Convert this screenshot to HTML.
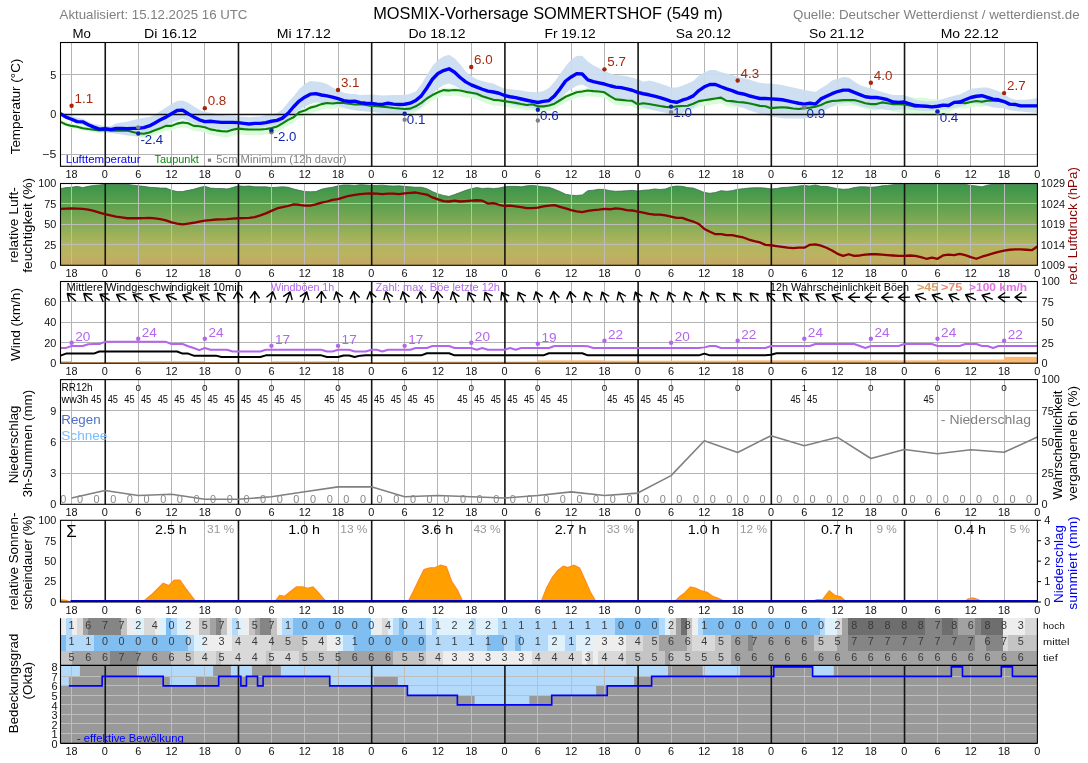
<!DOCTYPE html>
<html lang="de"><head><meta charset="utf-8"><title>MOSMIX-Vorhersage SOMMERTSHOF (549 m)</title>
<style>html,body{margin:0;padding:0;background:#fff;}body{width:1088px;height:763px;overflow:hidden;font-family:"Liberation Sans", sans-serif;}svg text{font-family:"Liberation Sans", sans-serif;}</style>
</head><body>
<svg width="1088" height="763" viewBox="0 0 1088 763" font-family='"Liberation Sans", sans-serif' style="display:block;will-change:transform;transform:translateZ(0)">
<rect width="1088" height="763" fill="#fff"/>
<defs>
<linearGradient id="rh" x1="0" y1="0" x2="0" y2="1">
<stop offset="0" stop-color="#39944a"/><stop offset="0.25" stop-color="#5ba04f"/><stop offset="0.5" stop-color="#86ab56"/><stop offset="0.75" stop-color="#b2b65e"/><stop offset="0.88" stop-color="#bcb260"/><stop offset="1" stop-color="#c4a663"/>
</linearGradient>
</defs>
<text x="59.6" y="18.9" font-size="12.83" fill="#808080" textLength="187.85" lengthAdjust="spacingAndGlyphs">Aktualisiert: 15.12.2025 16 UTC</text>
<text x="548" y="18.9" font-size="16.54" fill="#000" text-anchor="middle" textLength="349.66" lengthAdjust="spacingAndGlyphs">MOSMIX-Vorhersage SOMMERTSHOF (549 m)</text>
<text x="1079.6" y="18.9" font-size="12.83" fill="#808080" text-anchor="end" textLength="286.57" lengthAdjust="spacingAndGlyphs">Quelle: Deutscher Wetterdienst / wetterdienst.de</text>
<text x="81.7" y="37.9" font-size="13.25" fill="#000" text-anchor="middle" textLength="18.43" lengthAdjust="spacingAndGlyphs">Mo</text>
<text x="170.51" y="37.9" font-size="13.25" fill="#000" text-anchor="middle" textLength="52.86" lengthAdjust="spacingAndGlyphs">Di 16.12</text>
<text x="303.73" y="37.9" font-size="13.25" fill="#000" text-anchor="middle" textLength="54.02" lengthAdjust="spacingAndGlyphs">Mi 17.12</text>
<text x="436.94" y="37.9" font-size="13.25" fill="#000" text-anchor="middle" textLength="57.03" lengthAdjust="spacingAndGlyphs">Do 18.12</text>
<text x="570.15" y="37.9" font-size="13.25" fill="#000" text-anchor="middle" textLength="51.18" lengthAdjust="spacingAndGlyphs">Fr 19.12</text>
<text x="703.37" y="37.9" font-size="13.25" fill="#000" text-anchor="middle" textLength="55.35" lengthAdjust="spacingAndGlyphs">Sa 20.12</text>
<text x="836.58" y="37.9" font-size="13.25" fill="#000" text-anchor="middle" textLength="55.34" lengthAdjust="spacingAndGlyphs">So 21.12</text>
<text x="969.79" y="37.9" font-size="13.25" fill="#000" text-anchor="middle" textLength="58.19" lengthAdjust="spacingAndGlyphs">Mo 22.12</text>
<clipPath id="c1"><rect x="60.5" y="42.5" width="976.9" height="123.8"/></clipPath>
<line x1="71.5" y1="42.5" x2="71.5" y2="166.3" stroke="#b4b4b4" stroke-width="1"/>
<line x1="138.5" y1="42.5" x2="138.5" y2="166.3" stroke="#b4b4b4" stroke-width="1"/>
<line x1="171.5" y1="42.5" x2="171.5" y2="166.3" stroke="#b4b4b4" stroke-width="1"/>
<line x1="204.5" y1="42.5" x2="204.5" y2="166.3" stroke="#b4b4b4" stroke-width="1"/>
<line x1="271.5" y1="42.5" x2="271.5" y2="166.3" stroke="#b4b4b4" stroke-width="1"/>
<line x1="304.5" y1="42.5" x2="304.5" y2="166.3" stroke="#b4b4b4" stroke-width="1"/>
<line x1="338.5" y1="42.5" x2="338.5" y2="166.3" stroke="#b4b4b4" stroke-width="1"/>
<line x1="404.5" y1="42.5" x2="404.5" y2="166.3" stroke="#b4b4b4" stroke-width="1"/>
<line x1="437.5" y1="42.5" x2="437.5" y2="166.3" stroke="#b4b4b4" stroke-width="1"/>
<line x1="471.5" y1="42.5" x2="471.5" y2="166.3" stroke="#b4b4b4" stroke-width="1"/>
<line x1="537.5" y1="42.5" x2="537.5" y2="166.3" stroke="#b4b4b4" stroke-width="1"/>
<line x1="571.5" y1="42.5" x2="571.5" y2="166.3" stroke="#b4b4b4" stroke-width="1"/>
<line x1="604.5" y1="42.5" x2="604.5" y2="166.3" stroke="#b4b4b4" stroke-width="1"/>
<line x1="671.5" y1="42.5" x2="671.5" y2="166.3" stroke="#b4b4b4" stroke-width="1"/>
<line x1="704.5" y1="42.5" x2="704.5" y2="166.3" stroke="#b4b4b4" stroke-width="1"/>
<line x1="737.5" y1="42.5" x2="737.5" y2="166.3" stroke="#b4b4b4" stroke-width="1"/>
<line x1="804.5" y1="42.5" x2="804.5" y2="166.3" stroke="#b4b4b4" stroke-width="1"/>
<line x1="837.5" y1="42.5" x2="837.5" y2="166.3" stroke="#b4b4b4" stroke-width="1"/>
<line x1="870.5" y1="42.5" x2="870.5" y2="166.3" stroke="#b4b4b4" stroke-width="1"/>
<line x1="937.5" y1="42.5" x2="937.5" y2="166.3" stroke="#b4b4b4" stroke-width="1"/>
<line x1="970.5" y1="42.5" x2="970.5" y2="166.3" stroke="#b4b4b4" stroke-width="1"/>
<line x1="1004.5" y1="42.5" x2="1004.5" y2="166.3" stroke="#b4b4b4" stroke-width="1"/>
<line x1="60.5" y1="74.5" x2="1037.4" y2="74.5" stroke="#b4b4b4" stroke-width="1"/>
<line x1="60.5" y1="154.5" x2="1037.4" y2="154.5" stroke="#b4b4b4" stroke-width="1"/>
<g clip-path="url(#c1)">
<path d="M60.5 119.49 L66.05 122.1 L71.6 123.52 L77.15 124.39 L82.7 125.81 L88.25 126.68 L93.8 127.39 L99.35 128.18 L104.9 127.55 L110.46 128.18 L116.01 128.17 L121.56 128.17 L127.11 128.17 L132.66 129.51 L138.21 130.86 L143.76 131.33 L149.31 130.14 L154.86 127.92 L160.41 125.78 L165.96 123.48 L171.51 123.47 L177.06 121.17 L182.61 119.98 L188.16 120.77 L193.71 123.46 L199.26 123.78 L204.81 124.72 L210.37 126.94 L215.92 127.89 L221.47 128.68 L227.02 129.07 L232.57 127.32 L238.12 126.13 L243.67 126.69 L249.22 127.08 L254.77 127.08 L260.32 127.07 L265.87 126.52 L271.42 125.64 L276.97 124.06 L282.52 120.88 L288.07 117.4 L293.62 114.78 L299.17 109.87 L304.73 108.12 L310.28 105.11 L315.83 103.76 L321.38 101.62 L326.93 100.43 L332.48 101.06 L338.03 100.19 L343.58 100.42 L349.13 101.29 L354.68 101.92 L360.23 101.6 L365.78 102.47 L371.33 103.34 L376.88 103.73 L382.43 104.2 L387.98 104.75 L393.53 105.46 L399.08 105.94 L404.64 106.41 L410.19 106.09 L415.74 103.79 L421.29 100.3 L426.84 95.94 L432.39 92.46 L437.94 89.76 L443.49 87.54 L449.04 88.01 L454.59 87.38 L460.14 88.01 L465.69 89.27 L471.24 90.14 L476.79 91.17 L482.34 93.62 L487.89 95.52 L493.44 97.26 L498.99 97.65 L504.55 98.52 L510.1 99.39 L515.65 100.26 L521.2 101.44 L526.75 102.31 L532.3 101.67 L537.85 103.73 L543.4 103.73 L548.95 102.85 L554.5 101.11 L560.05 97.62 L565.6 94.13 L571.15 91.83 L576.7 89.69 L582.25 88.9 L587.8 87.94 L593.35 88.5 L598.91 88.89 L604.46 89.68 L610.01 93.56 L615.56 96.72 L621.11 97.19 L626.66 97.9 L632.21 98.14 L637.76 101.62 L643.31 100.51 L648.86 101.38 L654.41 102.25 L659.96 103.35 L665.51 104.22 L671.06 104.54 L676.61 103.66 L682.16 103.34 L687.71 103.1 L693.26 101.04 L698.82 98.42 L704.37 97.55 L709.92 96.68 L715.47 95.8 L721.02 94.93 L726.57 98.09 L732.12 98.41 L737.67 99.27 L743.22 99.67 L748.77 100.54 L754.32 101.72 L759.87 103.14 L765.42 103.54 L770.97 105.44 L776.52 104.88 L782.07 104.56 L787.62 104.87 L793.18 105.74 L798.73 106.29 L804.28 105.42 L809.83 104.86 L815.38 103.99 L820.93 102.24 L826.48 99.63 L832.03 98.2 L837.58 97.88 L843.13 97.32 L848.68 97.32 L854.23 97.32 L859.78 98.74 L865.33 100.15 L870.88 100.69 L876.43 100.36 L881.98 98.29 L887.53 98.83 L893.09 99.37 L898.64 97.39 L904.19 95.73 L909.74 96.84 L915.29 98.03 L920.84 97.55 L926.39 98.03 L931.94 99.37 L937.49 99.61 L943.04 99.53 L948.59 100.32 L954.14 97.79 L959.69 97.95 L965.24 98.9 L970.79 98.11 L976.34 97.06 L981.89 98 L987.44 96.88 L993 96.94 L998.55 97.33 L1004.1 98.26 L1009.65 100.94 L1015.2 101.17 L1020.75 102.5 L1026.3 102.57 L1031.85 102.63 L1037.4 102.7 L1037.4 109.83 L1031.85 109.94 L1026.3 110.05 L1020.75 110.17 L1015.2 109.01 L1009.65 108.97 L1004.1 106.47 L998.55 105.71 L993 105.51 L987.44 105.62 L981.89 106.92 L976.34 106.16 L970.79 107.38 L965.24 108.68 L959.69 108.24 L954.14 109.27 L948.59 113 L943.04 113.79 L937.49 115.45 L931.94 116.14 L926.39 115.71 L920.84 115.37 L915.29 115.98 L909.74 114.92 L904.19 113.95 L898.64 112.44 L893.09 111.25 L887.53 110.12 L881.98 108.98 L876.43 110.46 L870.88 110.2 L865.33 109.06 L859.78 107.06 L854.23 105.63 L848.68 105.63 L843.13 105.63 L837.58 106.18 L832.03 106.5 L826.48 107.93 L820.93 110.54 L815.38 112.28 L809.83 113.15 L804.28 113.71 L798.73 114.58 L793.18 114.02 L787.62 113.15 L782.07 112.84 L776.52 113.15 L770.97 113.71 L765.42 111.81 L759.87 111.41 L754.32 109.99 L748.77 108.8 L743.22 107.93 L737.67 107.53 L732.12 106.66 L726.57 106.34 L721.02 103.17 L715.47 104.05 L709.92 104.92 L704.37 105.79 L698.82 106.66 L693.26 109.27 L687.71 111.33 L682.16 111.57 L676.61 111.89 L671.06 112.76 L665.51 112.44 L659.96 111.57 L654.41 110.46 L648.86 109.59 L643.31 108.72 L637.76 109.83 L632.21 106.34 L626.66 106.1 L621.11 105.39 L615.56 104.92 L610.01 101.75 L604.46 97.87 L598.91 97.08 L593.35 96.68 L587.8 96.13 L582.25 97.08 L576.7 97.87 L571.15 100.01 L565.6 102.3 L560.05 105.79 L554.5 109.27 L548.95 111.02 L543.4 111.89 L537.85 111.89 L532.3 109.83 L526.75 110.46 L521.2 109.59 L515.65 108.4 L510.1 107.53 L504.55 106.66 L498.99 105.79 L493.44 105.39 L487.89 103.65 L482.34 101.75 L476.79 99.29 L471.24 98.26 L465.69 97.39 L460.14 96.13 L454.59 95.49 L449.04 96.13 L443.49 95.65 L437.94 97.87 L432.39 100.56 L426.84 104.05 L421.29 108.4 L415.74 111.89 L410.19 114.18 L404.64 114.5 L399.08 114.02 L393.53 113.55 L387.98 112.84 L382.43 112.28 L376.88 111.81 L371.33 111.41 L365.78 110.54 L360.23 109.67 L354.68 109.99 L349.13 109.35 L343.58 108.48 L338.03 108.24 L332.48 109.11 L326.93 108.48 L321.38 109.67 L315.83 111.81 L310.28 113.15 L304.73 116.16 L299.17 117.92 L293.62 122.84 L288.07 125.46 L282.52 128.96 L276.97 132.14 L271.42 133.73 L265.87 134.62 L260.32 135.18 L254.77 135.19 L249.22 135.21 L243.67 134.82 L238.12 134.28 L232.57 135.48 L227.02 137.23 L221.47 136.73 L215.92 135.82 L210.37 134.77 L204.81 132.44 L199.26 131.38 L193.71 130.95 L188.16 128.15 L182.61 127.25 L177.06 128.33 L171.51 130.52 L165.96 130.41 L160.41 132.6 L154.86 134.63 L149.31 136.74 L143.76 137.81 L138.21 137.23 L132.66 135.69 L127.11 134.14 L121.56 133.94 L116.01 133.75 L110.46 133.55 L104.9 132.72 L99.35 133.2 L93.8 132.26 L88.25 131.4 L82.7 130.38 L77.15 128.81 L71.6 127.79 L66.05 126.21 L60.5 123.45 Z" stroke="none" stroke-width="1" fill="#d9fbd9"/>
<path d="M60.5 111.89 L66.05 113.99 L71.6 116.08 L77.15 117.47 L82.7 118.86 L88.25 121.43 L93.8 124 L99.35 124.95 L104.9 125.9 L110.46 126.22 L116.01 123.21 L121.56 122.42 L127.11 121.63 L132.66 120.24 L138.21 118.86 L143.76 117.98 L149.31 117.11 L154.86 115.05 L160.41 111.02 L165.96 107.53 L171.51 104.05 L177.06 101.04 L182.61 100.56 L188.16 102.86 L193.71 106.34 L199.26 109.75 L204.81 111.89 L210.37 112.8 L215.92 113.71 L221.47 114.74 L227.02 115.77 L232.57 116.08 L238.12 116.4 L243.67 116.84 L249.22 117.27 L254.77 116.84 L260.32 116.4 L265.87 115.33 L271.42 114.26 L276.97 112.92 L282.52 109.35 L288.07 102.38 L293.62 96.28 L299.17 89.24 L304.73 84.01 L310.28 81.08 L315.83 81.39 L321.38 82.27 L326.93 84.01 L332.48 87.57 L338.03 90.11 L343.58 92.8 L349.13 93.67 L354.68 93.99 L360.23 95.02 L365.78 94.78 L371.33 94.54 L376.88 94.98 L382.43 95.41 L387.98 95.21 L393.53 95.02 L399.08 95.02 L404.64 95.02 L410.19 93.75 L415.74 91.53 L421.29 84.48 L426.84 74.9 L432.39 66.19 L437.94 60.01 L443.49 56.53 L449.04 54.78 L454.59 58.27 L460.14 64.37 L465.69 71.42 L471.24 75.77 L476.79 79.26 L482.34 81 L487.89 82.42 L493.44 83.61 L498.99 86.23 L504.55 88.84 L510.1 89.27 L515.65 89.71 L521.2 90.62 L526.75 91.53 L532.3 91.93 L537.85 92.32 L543.4 90.98 L548.95 87.97 L554.5 81.87 L560.05 74.03 L565.6 66.19 L571.15 59.85 L576.7 55.89 L582.25 55.65 L587.8 61.44 L593.35 65.24 L598.91 67.93 L604.46 71.02 L610.01 73.16 L615.56 74.9 L621.11 75.57 L626.66 76.25 L632.21 77.75 L637.76 79.26 L643.31 81.87 L648.86 80.44 L654.41 81.87 L659.96 83.61 L665.51 85.35 L671.06 87.49 L676.61 87.49 L682.16 85.75 L687.71 83.61 L693.26 81 L698.82 75.77 L704.37 72.29 L709.92 69.99 L715.47 69.99 L721.02 72.29 L726.57 73.47 L732.12 74.9 L737.67 76.64 L743.22 78.07 L748.77 79.49 L754.32 81.24 L759.87 82.82 L765.42 83.61 L770.97 83.61 L776.52 84.25 L782.07 84.88 L787.62 86.23 L793.18 87.57 L798.73 88.84 L804.28 90.11 L809.83 91.02 L815.38 91.93 L820.93 88.36 L826.48 84.88 L832.03 80.52 L837.58 78.86 L843.13 77.04 L848.68 77.59 L854.23 81.39 L859.78 84.88 L865.33 87.02 L870.88 88.36 L876.43 90.15 L881.98 91.93 L887.53 93.47 L893.09 95.02 L898.64 95.02 L904.19 95.02 L909.74 97.39 L915.29 99.77 L920.84 100.64 L926.39 101.51 L931.94 101.08 L937.49 100.64 L943.04 98.9 L948.59 97.16 L954.14 95.85 L959.69 94.54 L965.24 91.65 L970.79 88.76 L976.34 88.36 L981.89 87.57 L987.44 87.57 L993 89.24 L998.55 91.14 L1004.1 93.67 L1009.65 98.03 L1015.2 99.77 L1020.75 99.77 L1026.3 99.77 L1031.85 98.9 L1037.4 98.03 L1037.4 112.92 L1031.85 112.44 L1026.3 111.97 L1020.75 111.53 L1015.2 111.09 L1009.65 110.22 L1004.1 108.48 L998.55 108.05 L993 107.61 L987.44 105.87 L981.89 104.12 L976.34 103.69 L970.79 103.25 L965.24 105 L959.69 106.74 L954.14 108.05 L948.59 109.35 L943.04 109.79 L937.49 110.22 L931.94 110.66 L926.39 111.09 L920.84 110.66 L915.29 110.22 L909.74 109.79 L904.19 109.35 L898.64 109.79 L893.09 110.22 L887.53 109.79 L881.98 109.35 L876.43 108.92 L870.88 108.48 L865.33 107.17 L859.78 105.87 L854.23 104.12 L848.68 102.38 L843.13 103.25 L837.58 104.12 L832.03 106.74 L826.48 109.35 L820.93 112.88 L815.38 116.4 L809.83 117.51 L804.28 118.62 L798.73 118.62 L793.18 118.62 L787.62 118.38 L782.07 118.14 L776.52 117.27 L770.97 116.4 L765.42 115.05 L759.87 113.71 L754.32 111.93 L748.77 110.14 L743.22 107.61 L737.67 106.34 L732.12 104.16 L726.57 101.99 L721.02 100.24 L715.47 98.5 L709.92 99.37 L704.37 100.24 L698.82 103.73 L693.26 108.08 L687.71 110.7 L682.16 113.31 L676.61 115.05 L671.06 114.18 L665.51 112.88 L659.96 111.57 L654.41 110.26 L648.86 108.96 L643.31 107.21 L637.76 105.47 L632.21 103.29 L626.66 101.12 L621.11 99.37 L615.56 97.63 L610.01 95.89 L604.46 94.15 L598.91 92.36 L593.35 90.58 L587.8 87.57 L582.25 84.48 L576.7 85.75 L571.15 89.16 L565.6 93.27 L560.05 99.37 L554.5 104.6 L548.95 107.21 L543.4 108.08 L537.85 108.96 L532.3 108.08 L526.75 107.21 L521.2 106.34 L515.65 105.47 L510.1 104.16 L504.55 102.86 L498.99 101.55 L493.44 100.24 L487.89 98.94 L482.34 97.63 L476.79 95.89 L471.24 94.15 L465.69 91.85 L460.14 88.84 L454.59 85.75 L449.04 83.61 L443.49 85.35 L437.94 88.84 L432.39 93.27 L426.84 100.24 L421.29 107.21 L415.74 109.75 L410.19 111.33 L404.64 112.92 L399.08 113.35 L393.53 113.79 L387.98 113.51 L382.43 113.23 L376.88 112.6 L371.33 111.97 L365.78 111.53 L360.23 111.09 L354.68 110.22 L349.13 109.35 L343.58 107.61 L338.03 105.87 L332.48 104.56 L326.93 103.25 L321.38 102.82 L315.83 102.38 L310.28 104.12 L304.73 106.74 L299.17 110.22 L293.62 114.66 L288.07 119.01 L282.52 123.37 L276.97 124.68 L271.42 125.98 L265.87 126.86 L260.32 127.73 L254.77 127.98 L249.22 128.24 L243.67 128.5 L238.12 128.76 L232.57 129.07 L227.02 129.39 L221.47 128.95 L215.92 128.52 L210.37 128.08 L204.81 127.65 L199.26 125.43 L193.71 123.21 L188.16 121.03 L182.61 118.86 L177.06 120.64 L171.51 122.42 L165.96 125.03 L160.41 127.65 L154.86 130.7 L149.31 133.75 L143.76 136.04 L138.21 136.36 L132.66 135.92 L127.11 135.49 L121.56 134.62 L116.01 133.75 L110.46 132.83 L104.9 131.92 L99.35 130.66 L93.8 129.39 L88.25 127.21 L82.7 125.03 L77.15 123.33 L71.6 121.63 L66.05 118.46 L60.5 115.29 Z" stroke="none" stroke-width="1" fill="#c9ddf0" fill-opacity="0.93"/>
</g>
<line x1="60.5" y1="114.5" x2="1037.4" y2="114.5" stroke="#111" stroke-width="1.5"/>
<line x1="105.25" y1="42.5" x2="105.25" y2="166.3" stroke="#151515" stroke-width="1.6"/>
<line x1="238.47" y1="42.5" x2="238.47" y2="166.3" stroke="#151515" stroke-width="1.6"/>
<line x1="371.68" y1="42.5" x2="371.68" y2="166.3" stroke="#151515" stroke-width="1.6"/>
<line x1="504.9" y1="42.5" x2="504.9" y2="166.3" stroke="#151515" stroke-width="1.6"/>
<line x1="638.11" y1="42.5" x2="638.11" y2="166.3" stroke="#151515" stroke-width="1.6"/>
<line x1="771.32" y1="42.5" x2="771.32" y2="166.3" stroke="#151515" stroke-width="1.6"/>
<line x1="904.54" y1="42.5" x2="904.54" y2="166.3" stroke="#151515" stroke-width="1.6"/>
<g clip-path="url(#c1)">
<path d="M60.5 121.87 L66.05 124.48 L71.6 125.9 L77.15 126.78 L82.7 128.2 L88.25 129.07 L93.8 129.79 L99.35 130.58 L104.9 129.94 L110.46 130.58 L116.01 130.58 L121.56 130.58 L127.11 130.58 L132.66 131.92 L138.21 133.27 L143.76 133.75 L149.31 132.56 L154.86 130.34 L160.41 128.2 L165.96 125.9 L171.51 125.9 L177.06 123.61 L182.61 122.42 L188.16 123.21 L193.71 125.9 L199.26 126.22 L204.81 127.17 L210.37 129.39 L215.92 130.34 L221.47 131.13 L227.02 131.53 L232.57 129.79 L238.12 128.6 L243.67 129.15 L249.22 129.55 L254.77 129.55 L260.32 129.55 L265.87 128.99 L271.42 128.12 L276.97 126.54 L282.52 123.37 L288.07 119.89 L293.62 117.27 L299.17 112.36 L304.73 110.62 L310.28 107.61 L315.83 106.26 L321.38 104.12 L326.93 102.94 L332.48 103.57 L338.03 102.7 L343.58 102.94 L349.13 103.81 L354.68 104.44 L360.23 104.12 L365.78 105 L371.33 105.87 L376.88 106.26 L382.43 106.74 L387.98 107.29 L393.53 108.01 L399.08 108.48 L404.64 108.96 L410.19 108.64 L415.74 106.34 L421.29 102.86 L426.84 98.5 L432.39 95.02 L437.94 92.32 L443.49 90.11 L449.04 90.58 L454.59 89.95 L460.14 90.58 L465.69 91.85 L471.24 92.72 L476.79 93.75 L482.34 96.2 L487.89 98.11 L493.44 99.85 L498.99 100.24 L504.55 101.12 L510.1 101.99 L515.65 102.86 L521.2 104.05 L526.75 104.92 L532.3 104.28 L537.85 106.34 L543.4 106.34 L548.95 105.47 L554.5 103.73 L560.05 100.24 L565.6 96.76 L571.15 94.46 L576.7 92.32 L582.25 91.53 L587.8 90.58 L593.35 91.14 L598.91 91.53 L604.46 92.32 L610.01 96.2 L615.56 99.37 L621.11 99.85 L626.66 100.56 L632.21 100.8 L637.76 104.28 L643.31 103.17 L648.86 104.05 L654.41 104.92 L659.96 106.03 L665.51 106.9 L671.06 107.21 L676.61 106.34 L682.16 106.03 L687.71 105.79 L693.26 103.73 L698.82 101.12 L704.37 100.24 L709.92 99.37 L715.47 98.5 L721.02 97.63 L726.57 100.8 L732.12 101.12 L737.67 101.99 L743.22 102.38 L748.77 103.25 L754.32 104.44 L759.87 105.87 L765.42 106.26 L770.97 108.16 L776.52 107.61 L782.07 107.29 L787.62 107.61 L793.18 108.48 L798.73 109.04 L804.28 108.16 L809.83 107.61 L815.38 106.74 L820.93 105 L826.48 102.38 L832.03 100.96 L837.58 100.64 L843.13 100.09 L848.68 100.09 L854.23 100.09 L859.78 101.51 L865.33 103.25 L870.88 104.12 L876.43 104.12 L881.98 102.38 L887.53 103.25 L893.09 104.12 L898.64 104.12 L904.19 104.44 L909.74 105.55 L915.29 106.74 L920.84 106.26 L926.39 106.74 L931.94 107.29 L937.49 106.74 L943.04 105.87 L948.59 105.87 L954.14 102.94 L959.69 102.7 L965.24 103.25 L970.79 102.07 L976.34 100.96 L981.89 101.83 L987.44 100.64 L993 100.64 L998.55 100.96 L1004.1 101.83 L1009.65 104.44 L1015.2 104.6 L1020.75 105.87 L1026.3 105.87 L1031.85 105.87 L1037.4 105.87" stroke="#0a800a" stroke-width="2.1" fill="none" stroke-linejoin="round"/>
<path d="M60.5 113.71 L66.05 117.11 L71.6 119.25 L77.15 121.63 L82.7 121.87 L88.25 124.8 L93.8 127.17 L99.35 129.15 L104.9 128.76 L110.46 129.55 L116.01 128.52 L121.56 128.52 L127.11 128.76 L132.66 128.36 L138.21 128.2 L143.76 127.65 L149.31 125.9 L154.86 122.9 L160.41 119.81 L165.96 117.11 L171.51 113.71 L177.06 110.54 L182.61 110.14 L188.16 113.71 L193.71 116.88 L199.26 119.81 L204.81 121.63 L210.37 121.23 L215.92 121.87 L221.47 122.42 L227.02 122.42 L232.57 122.42 L238.12 122.66 L243.67 123.37 L249.22 124 L254.77 123.37 L260.32 123.37 L265.87 122.66 L271.42 121.23 L276.97 120.36 L282.52 118.14 L288.07 113.23 L293.62 106.74 L299.17 101.04 L304.73 97.16 L310.28 94.15 L315.83 93.67 L321.38 95.02 L326.93 95.89 L332.48 97.16 L338.03 98.66 L343.58 100.64 L349.13 101.51 L354.68 101.19 L360.23 102.7 L365.78 103.25 L371.33 103.41 L376.88 104.12 L382.43 104.44 L387.98 103.25 L393.53 104.12 L399.08 104.44 L404.64 104.28 L410.19 103.17 L415.74 100.56 L421.29 95.89 L426.84 87.97 L432.39 79.26 L437.94 73.47 L443.49 70.54 L449.04 68.8 L454.59 72.29 L460.14 77.51 L465.69 81.87 L471.24 84.88 L476.79 87.1 L482.34 89.24 L487.89 91.14 L493.44 92.01 L498.99 93.27 L504.55 95.49 L510.1 96.76 L515.65 97.63 L521.2 98.98 L526.75 100.24 L532.3 101.43 L537.85 102.54 L543.4 101.43 L548.95 100.56 L554.5 95.89 L560.05 88.84 L565.6 81 L571.15 76.96 L576.7 73.63 L582.25 74.03 L587.8 79.81 L593.35 81.55 L598.91 82.82 L604.46 84.01 L610.01 85.75 L615.56 87.1 L621.11 87.65 L626.66 88.84 L632.21 90.26 L637.76 92.32 L643.31 93.75 L648.86 94.78 L654.41 96.2 L659.96 97.63 L665.51 99.37 L671.06 101.43 L676.61 102.3 L682.16 100.24 L687.71 98.5 L693.26 95.89 L698.82 90.58 L704.37 86.78 L709.92 84.48 L715.47 84.48 L721.02 86.78 L726.57 88.84 L732.12 90.58 L737.67 92.88 L743.22 93.99 L748.77 95.73 L754.32 97.16 L759.87 98.5 L765.42 98.5 L770.97 98.9 L776.52 99.21 L782.07 99.77 L787.62 100.96 L793.18 102.07 L798.73 103.25 L804.28 104.12 L809.83 103.25 L815.38 104.12 L820.93 98.9 L826.48 96.28 L832.03 93.67 L837.58 91.53 L843.13 90.11 L848.68 90.11 L854.23 92.4 L859.78 94.54 L865.33 96.76 L870.88 97.47 L876.43 97.47 L881.98 98.34 L887.53 99.77 L893.09 102.07 L898.64 102.38 L904.19 102.07 L909.74 103.81 L915.29 105.55 L920.84 105.87 L926.39 106.26 L931.94 106.9 L937.49 106.26 L943.04 105.15 L948.59 105.55 L954.14 102.38 L959.69 102.07 L965.24 99.77 L970.79 97.47 L976.34 96.28 L981.89 95.73 L987.44 97.47 L993 99.21 L998.55 99.77 L1004.1 101.51 L1009.65 104.12 L1015.2 104.44 L1020.75 105.87 L1026.3 105.87 L1031.85 105.87 L1037.4 105.87" stroke="#0000ff" stroke-width="3.4" fill="none" stroke-linejoin="round"/>
</g>
<circle cx="138.21" cy="127.33" r="2.2" fill="#808080"/>
<circle cx="271.42" cy="132.32" r="2.2" fill="#808080"/>
<circle cx="404.64" cy="119.65" r="2.2" fill="#808080"/>
<circle cx="537.85" cy="120.44" r="2.2" fill="#808080"/>
<circle cx="671.06" cy="112.12" r="2.2" fill="#808080"/>
<circle cx="804.28" cy="107.37" r="2.2" fill="#808080"/>
<circle cx="937.49" cy="112.52" r="2.2" fill="#808080"/>
<circle cx="138.21" cy="133.51" r="2.2" fill="#1020b0"/>
<circle cx="271.42" cy="130.34" r="2.2" fill="#1020b0"/>
<circle cx="404.64" cy="113.71" r="2.2" fill="#1020b0"/>
<circle cx="537.85" cy="109.75" r="2.2" fill="#1020b0"/>
<circle cx="671.06" cy="106.58" r="2.2" fill="#1020b0"/>
<circle cx="937.49" cy="111.33" r="2.2" fill="#1020b0"/>
<circle cx="804.28" cy="107.37" r="2.2" fill="#808080"/>
<text x="140.41" y="144.11" font-size="13.25" fill="#1428b0" textLength="22.83" lengthAdjust="spacingAndGlyphs">-2.4</text>
<text x="273.62" y="140.94" font-size="13.25" fill="#1428b0" textLength="22.83" lengthAdjust="spacingAndGlyphs">-2.0</text>
<text x="406.84" y="124.31" font-size="13.25" fill="#1428b0" textLength="18.61" lengthAdjust="spacingAndGlyphs">0.1</text>
<text x="540.05" y="120.35" font-size="13.25" fill="#1428b0" textLength="18.61" lengthAdjust="spacingAndGlyphs">0.6</text>
<text x="673.26" y="117.18" font-size="13.25" fill="#1428b0" textLength="18.61" lengthAdjust="spacingAndGlyphs">1.0</text>
<text x="806.48" y="117.97" font-size="13.25" fill="#1428b0" textLength="18.61" lengthAdjust="spacingAndGlyphs">0.9</text>
<text x="939.69" y="121.93" font-size="13.25" fill="#1428b0" textLength="18.61" lengthAdjust="spacingAndGlyphs">0.4</text>
<circle cx="71.6" cy="105.79" r="2.2" fill="#a82408"/>
<text x="74.5" y="102.89" font-size="13.25" fill="#a8280c" textLength="18.61" lengthAdjust="spacingAndGlyphs">1.1</text>
<circle cx="204.81" cy="108.16" r="2.2" fill="#a82408"/>
<text x="207.71" y="105.26" font-size="13.25" fill="#a8280c" textLength="18.61" lengthAdjust="spacingAndGlyphs">0.8</text>
<circle cx="338.03" cy="89.95" r="2.2" fill="#a82408"/>
<text x="340.93" y="87.05" font-size="13.25" fill="#a8280c" textLength="18.61" lengthAdjust="spacingAndGlyphs">3.1</text>
<circle cx="471.24" cy="66.98" r="2.2" fill="#a82408"/>
<text x="474.14" y="64.08" font-size="13.25" fill="#a8280c" textLength="18.61" lengthAdjust="spacingAndGlyphs">6.0</text>
<circle cx="604.46" cy="69.36" r="2.2" fill="#a82408"/>
<text x="607.36" y="66.46" font-size="13.25" fill="#a8280c" textLength="18.61" lengthAdjust="spacingAndGlyphs">5.7</text>
<circle cx="737.67" cy="80.44" r="2.2" fill="#a82408"/>
<text x="740.57" y="77.54" font-size="13.25" fill="#a8280c" textLength="18.61" lengthAdjust="spacingAndGlyphs">4.3</text>
<circle cx="870.88" cy="82.82" r="2.2" fill="#a82408"/>
<text x="873.78" y="79.92" font-size="13.25" fill="#a8280c" textLength="18.61" lengthAdjust="spacingAndGlyphs">4.0</text>
<circle cx="1004.1" cy="93.12" r="2.2" fill="#a82408"/>
<text x="1007" y="90.22" font-size="13.25" fill="#a8280c" textLength="18.61" lengthAdjust="spacingAndGlyphs">2.7</text>
<text x="65.8" y="162.6" font-size="10.6" fill="#0000ff" textLength="74.79" lengthAdjust="spacingAndGlyphs">Lufttemperatur</text>
<text x="154.6" y="162.6" font-size="10.6" fill="#0a8a0a" textLength="44.29" lengthAdjust="spacingAndGlyphs">Taupunkt</text>
<rect x="207.9" y="158.6" width="3.2" height="3.2" fill="#808080"/>
<text x="216.3" y="162.6" font-size="10.6" fill="#808080" textLength="130.31" lengthAdjust="spacingAndGlyphs">5cm Minimum (12h davor)</text>
<rect x="60.5" y="42.5" width="976.9" height="123.8" fill="none" stroke="#000" stroke-width="1.1"/>
<text x="71.6" y="177.9" font-size="10.92" fill="#111" text-anchor="middle" textLength="12.09" lengthAdjust="spacingAndGlyphs">18</text>
<text x="104.9" y="177.9" font-size="10.92" fill="#111" text-anchor="middle">0</text>
<text x="138.21" y="177.9" font-size="10.92" fill="#111" text-anchor="middle">6</text>
<text x="171.51" y="177.9" font-size="10.92" fill="#111" text-anchor="middle" textLength="12.09" lengthAdjust="spacingAndGlyphs">12</text>
<text x="204.81" y="177.9" font-size="10.92" fill="#111" text-anchor="middle" textLength="12.09" lengthAdjust="spacingAndGlyphs">18</text>
<text x="238.12" y="177.9" font-size="10.92" fill="#111" text-anchor="middle">0</text>
<text x="271.42" y="177.9" font-size="10.92" fill="#111" text-anchor="middle">6</text>
<text x="304.73" y="177.9" font-size="10.92" fill="#111" text-anchor="middle" textLength="12.09" lengthAdjust="spacingAndGlyphs">12</text>
<text x="338.03" y="177.9" font-size="10.92" fill="#111" text-anchor="middle" textLength="12.09" lengthAdjust="spacingAndGlyphs">18</text>
<text x="371.33" y="177.9" font-size="10.92" fill="#111" text-anchor="middle">0</text>
<text x="404.64" y="177.9" font-size="10.92" fill="#111" text-anchor="middle">6</text>
<text x="437.94" y="177.9" font-size="10.92" fill="#111" text-anchor="middle" textLength="12.09" lengthAdjust="spacingAndGlyphs">12</text>
<text x="471.24" y="177.9" font-size="10.92" fill="#111" text-anchor="middle" textLength="12.09" lengthAdjust="spacingAndGlyphs">18</text>
<text x="504.55" y="177.9" font-size="10.92" fill="#111" text-anchor="middle">0</text>
<text x="537.85" y="177.9" font-size="10.92" fill="#111" text-anchor="middle">6</text>
<text x="571.15" y="177.9" font-size="10.92" fill="#111" text-anchor="middle" textLength="12.09" lengthAdjust="spacingAndGlyphs">12</text>
<text x="604.46" y="177.9" font-size="10.92" fill="#111" text-anchor="middle" textLength="12.09" lengthAdjust="spacingAndGlyphs">18</text>
<text x="637.76" y="177.9" font-size="10.92" fill="#111" text-anchor="middle">0</text>
<text x="671.06" y="177.9" font-size="10.92" fill="#111" text-anchor="middle">6</text>
<text x="704.37" y="177.9" font-size="10.92" fill="#111" text-anchor="middle" textLength="12.09" lengthAdjust="spacingAndGlyphs">12</text>
<text x="737.67" y="177.9" font-size="10.92" fill="#111" text-anchor="middle" textLength="12.09" lengthAdjust="spacingAndGlyphs">18</text>
<text x="770.97" y="177.9" font-size="10.92" fill="#111" text-anchor="middle">0</text>
<text x="804.28" y="177.9" font-size="10.92" fill="#111" text-anchor="middle">6</text>
<text x="837.58" y="177.9" font-size="10.92" fill="#111" text-anchor="middle" textLength="12.09" lengthAdjust="spacingAndGlyphs">12</text>
<text x="870.88" y="177.9" font-size="10.92" fill="#111" text-anchor="middle" textLength="12.09" lengthAdjust="spacingAndGlyphs">18</text>
<text x="904.19" y="177.9" font-size="10.92" fill="#111" text-anchor="middle">0</text>
<text x="937.49" y="177.9" font-size="10.92" fill="#111" text-anchor="middle">6</text>
<text x="970.79" y="177.9" font-size="10.92" fill="#111" text-anchor="middle" textLength="12.09" lengthAdjust="spacingAndGlyphs">12</text>
<text x="1004.1" y="177.9" font-size="10.92" fill="#111" text-anchor="middle" textLength="12.09" lengthAdjust="spacingAndGlyphs">18</text>
<text x="1037.4" y="177.9" font-size="10.92" fill="#111" text-anchor="middle">0</text>
<text x="56.3" y="78.7" font-size="10.92" fill="#111" text-anchor="end">5</text>
<text x="56.3" y="118.3" font-size="10.92" fill="#111" text-anchor="end">0</text>
<text x="56.3" y="157.9" font-size="10.92" fill="#111" text-anchor="end" textLength="14" lengthAdjust="spacingAndGlyphs">−5</text>
<text x="19.6" y="106.5" font-size="12.72" fill="#000" text-anchor="middle" textLength="95.65" lengthAdjust="spacingAndGlyphs" transform="rotate(-90 19.6 106.5)">Temperatur (°C)</text>
<clipPath id="c2"><path d="M60.5 265.3 L60.5 188.65 L66.05 187.59 L71.6 187.26 L77.15 186.36 L82.7 187.59 L88.25 186.36 L93.8 185.46 L99.35 184.97 L104.9 184.32 L110.46 184.32 L116.01 184.32 L121.56 184.32 L127.11 184.32 L132.66 185.14 L138.21 185.87 L143.76 186.36 L149.31 187.26 L154.86 187.59 L160.41 188.08 L165.96 188.08 L171.51 190.21 L177.06 191.6 L182.61 191.6 L188.16 190.37 L193.71 189.31 L199.26 187.59 L204.81 186.36 L210.37 188.08 L215.92 188.49 L221.47 188.49 L227.02 188.98 L232.57 187.59 L238.12 185.87 L243.67 186.36 L249.22 186.04 L254.77 186.77 L260.32 186.85 L265.87 186.85 L271.42 187.59 L276.97 187.26 L282.52 186.77 L288.07 187.26 L293.62 188.98 L299.17 190.37 L304.73 191.6 L310.28 191.76 L315.83 191.6 L321.38 189.31 L326.93 188.08 L332.48 187.26 L338.03 185.87 L343.58 184.97 L349.13 184.97 L354.68 185.46 L360.23 184.65 L365.78 184.97 L371.33 185.46 L376.88 185.46 L382.43 185.14 L387.98 185.87 L393.53 186.04 L399.08 185.87 L404.64 186.36 L410.19 186.85 L415.74 187.26 L421.29 187.26 L426.84 188.65 L432.39 191.6 L437.94 193.89 L443.49 195.44 L449.04 196.51 L454.59 194.54 L460.14 192.5 L465.69 190.37 L471.24 188.65 L476.79 187.59 L482.34 188.49 L487.89 188.08 L493.44 188.49 L498.99 188.08 L504.55 186.77 L510.1 186.36 L515.65 186.36 L521.2 186.77 L526.75 185.87 L532.3 185.46 L537.85 186.04 L543.4 186.85 L548.95 187.26 L554.5 189.31 L560.05 191.6 L565.6 194.22 L571.15 195.28 L576.7 195.44 L582.25 194.95 L587.8 190.7 L593.35 190.21 L598.91 189.31 L604.46 189.47 L610.01 190.7 L615.56 191.27 L621.11 191.11 L626.66 190.7 L632.21 190.37 L637.76 191.11 L643.31 190.21 L648.86 189.88 L654.41 188.98 L659.96 189.47 L665.51 188.98 L671.06 186.85 L676.61 186.04 L682.16 186.36 L687.71 187.59 L693.26 188.08 L698.82 190.21 L704.37 192.5 L709.92 193.32 L715.47 192.5 L721.02 190.7 L726.57 191.27 L732.12 190.7 L737.67 189.31 L743.22 188.65 L748.77 188.08 L754.32 187.75 L759.87 187.75 L765.42 188.08 L770.97 188.98 L776.52 188.49 L782.07 187.59 L787.62 187.26 L793.18 186.77 L798.73 186.04 L804.28 185.46 L809.83 186.04 L815.38 184.97 L820.93 186.36 L826.48 186.36 L832.03 187.59 L837.58 188.65 L843.13 189.31 L848.68 188.98 L854.23 187.59 L859.78 186.85 L865.33 186.85 L870.88 187.26 L876.43 186.85 L881.98 185.87 L887.53 185.46 L893.09 184.65 L898.64 184.32 L904.19 184.32 L909.74 184.32 L915.29 184.32 L920.84 184.32 L926.39 184.32 L931.94 184.32 L937.49 184.32 L943.04 184.32 L948.59 184.32 L954.14 184.32 L959.69 184.32 L965.24 184.32 L970.79 185.46 L976.34 185.95 L981.89 186.85 L987.44 185.14 L993 184.32 L998.55 184.32 L1004.1 184.32 L1009.65 184.32 L1015.2 184.32 L1020.75 184.32 L1026.3 184.32 L1031.85 184.32 L1037.4 184.32 L1037.4 265.3 Z"/></clipPath>
<rect x="60.5" y="183.5" width="976.9" height="81.8" fill="url(#rh)" clip-path="url(#c2)"/>
<path d="M60.5 188.65 L66.05 187.59 L71.6 187.26 L77.15 186.36 L82.7 187.59 L88.25 186.36 L93.8 185.46 L99.35 184.97 L104.9 184.32 L110.46 184.32 L116.01 184.32 L121.56 184.32 L127.11 184.32 L132.66 185.14 L138.21 185.87 L143.76 186.36 L149.31 187.26 L154.86 187.59 L160.41 188.08 L165.96 188.08 L171.51 190.21 L177.06 191.6 L182.61 191.6 L188.16 190.37 L193.71 189.31 L199.26 187.59 L204.81 186.36 L210.37 188.08 L215.92 188.49 L221.47 188.49 L227.02 188.98 L232.57 187.59 L238.12 185.87 L243.67 186.36 L249.22 186.04 L254.77 186.77 L260.32 186.85 L265.87 186.85 L271.42 187.59 L276.97 187.26 L282.52 186.77 L288.07 187.26 L293.62 188.98 L299.17 190.37 L304.73 191.6 L310.28 191.76 L315.83 191.6 L321.38 189.31 L326.93 188.08 L332.48 187.26 L338.03 185.87 L343.58 184.97 L349.13 184.97 L354.68 185.46 L360.23 184.65 L365.78 184.97 L371.33 185.46 L376.88 185.46 L382.43 185.14 L387.98 185.87 L393.53 186.04 L399.08 185.87 L404.64 186.36 L410.19 186.85 L415.74 187.26 L421.29 187.26 L426.84 188.65 L432.39 191.6 L437.94 193.89 L443.49 195.44 L449.04 196.51 L454.59 194.54 L460.14 192.5 L465.69 190.37 L471.24 188.65 L476.79 187.59 L482.34 188.49 L487.89 188.08 L493.44 188.49 L498.99 188.08 L504.55 186.77 L510.1 186.36 L515.65 186.36 L521.2 186.77 L526.75 185.87 L532.3 185.46 L537.85 186.04 L543.4 186.85 L548.95 187.26 L554.5 189.31 L560.05 191.6 L565.6 194.22 L571.15 195.28 L576.7 195.44 L582.25 194.95 L587.8 190.7 L593.35 190.21 L598.91 189.31 L604.46 189.47 L610.01 190.7 L615.56 191.27 L621.11 191.11 L626.66 190.7 L632.21 190.37 L637.76 191.11 L643.31 190.21 L648.86 189.88 L654.41 188.98 L659.96 189.47 L665.51 188.98 L671.06 186.85 L676.61 186.04 L682.16 186.36 L687.71 187.59 L693.26 188.08 L698.82 190.21 L704.37 192.5 L709.92 193.32 L715.47 192.5 L721.02 190.7 L726.57 191.27 L732.12 190.7 L737.67 189.31 L743.22 188.65 L748.77 188.08 L754.32 187.75 L759.87 187.75 L765.42 188.08 L770.97 188.98 L776.52 188.49 L782.07 187.59 L787.62 187.26 L793.18 186.77 L798.73 186.04 L804.28 185.46 L809.83 186.04 L815.38 184.97 L820.93 186.36 L826.48 186.36 L832.03 187.59 L837.58 188.65 L843.13 189.31 L848.68 188.98 L854.23 187.59 L859.78 186.85 L865.33 186.85 L870.88 187.26 L876.43 186.85 L881.98 185.87 L887.53 185.46 L893.09 184.65 L898.64 184.32 L904.19 184.32 L909.74 184.32 L915.29 184.32 L920.84 184.32 L926.39 184.32 L931.94 184.32 L937.49 184.32 L943.04 184.32 L948.59 184.32 L954.14 184.32 L959.69 184.32 L965.24 184.32 L970.79 185.46 L976.34 185.95 L981.89 186.85 L987.44 185.14 L993 184.32 L998.55 184.32 L1004.1 184.32 L1009.65 184.32 L1015.2 184.32 L1020.75 184.32 L1026.3 184.32 L1031.85 184.32 L1037.4 184.32" stroke="#3d6e4e" stroke-width="1" fill="none" stroke-opacity="0.8"/>
<line x1="71.5" y1="183.5" x2="71.5" y2="265.3" stroke="#bcbcbc" stroke-width="1"/>
<line x1="138.5" y1="183.5" x2="138.5" y2="265.3" stroke="#bcbcbc" stroke-width="1"/>
<line x1="171.5" y1="183.5" x2="171.5" y2="265.3" stroke="#bcbcbc" stroke-width="1"/>
<line x1="204.5" y1="183.5" x2="204.5" y2="265.3" stroke="#bcbcbc" stroke-width="1"/>
<line x1="271.5" y1="183.5" x2="271.5" y2="265.3" stroke="#bcbcbc" stroke-width="1"/>
<line x1="304.5" y1="183.5" x2="304.5" y2="265.3" stroke="#bcbcbc" stroke-width="1"/>
<line x1="338.5" y1="183.5" x2="338.5" y2="265.3" stroke="#bcbcbc" stroke-width="1"/>
<line x1="404.5" y1="183.5" x2="404.5" y2="265.3" stroke="#bcbcbc" stroke-width="1"/>
<line x1="437.5" y1="183.5" x2="437.5" y2="265.3" stroke="#bcbcbc" stroke-width="1"/>
<line x1="471.5" y1="183.5" x2="471.5" y2="265.3" stroke="#bcbcbc" stroke-width="1"/>
<line x1="537.5" y1="183.5" x2="537.5" y2="265.3" stroke="#bcbcbc" stroke-width="1"/>
<line x1="571.5" y1="183.5" x2="571.5" y2="265.3" stroke="#bcbcbc" stroke-width="1"/>
<line x1="604.5" y1="183.5" x2="604.5" y2="265.3" stroke="#bcbcbc" stroke-width="1"/>
<line x1="671.5" y1="183.5" x2="671.5" y2="265.3" stroke="#bcbcbc" stroke-width="1"/>
<line x1="704.5" y1="183.5" x2="704.5" y2="265.3" stroke="#bcbcbc" stroke-width="1"/>
<line x1="737.5" y1="183.5" x2="737.5" y2="265.3" stroke="#bcbcbc" stroke-width="1"/>
<line x1="804.5" y1="183.5" x2="804.5" y2="265.3" stroke="#bcbcbc" stroke-width="1"/>
<line x1="837.5" y1="183.5" x2="837.5" y2="265.3" stroke="#bcbcbc" stroke-width="1"/>
<line x1="870.5" y1="183.5" x2="870.5" y2="265.3" stroke="#bcbcbc" stroke-width="1"/>
<line x1="937.5" y1="183.5" x2="937.5" y2="265.3" stroke="#bcbcbc" stroke-width="1"/>
<line x1="970.5" y1="183.5" x2="970.5" y2="265.3" stroke="#bcbcbc" stroke-width="1"/>
<line x1="1004.5" y1="183.5" x2="1004.5" y2="265.3" stroke="#bcbcbc" stroke-width="1"/>
<line x1="60.5" y1="244.5" x2="1037.4" y2="244.5" stroke="#bcbcbc" stroke-width="1"/>
<line x1="60.5" y1="224.5" x2="1037.4" y2="224.5" stroke="#bcbcbc" stroke-width="1"/>
<line x1="60.5" y1="203.5" x2="1037.4" y2="203.5" stroke="#bcbcbc" stroke-width="1"/>
<line x1="105.25" y1="183.5" x2="105.25" y2="265.3" stroke="#151515" stroke-width="1.6"/>
<line x1="238.47" y1="183.5" x2="238.47" y2="265.3" stroke="#151515" stroke-width="1.6"/>
<line x1="371.68" y1="183.5" x2="371.68" y2="265.3" stroke="#151515" stroke-width="1.6"/>
<line x1="504.9" y1="183.5" x2="504.9" y2="265.3" stroke="#151515" stroke-width="1.6"/>
<line x1="638.11" y1="183.5" x2="638.11" y2="265.3" stroke="#151515" stroke-width="1.6"/>
<line x1="771.32" y1="183.5" x2="771.32" y2="265.3" stroke="#151515" stroke-width="1.6"/>
<line x1="904.54" y1="183.5" x2="904.54" y2="265.3" stroke="#151515" stroke-width="1.6"/>
<path d="M60.5 208.86 L66.05 208.65 L71.6 208.45 L77.15 208.65 L82.7 208.86 L88.25 209.68 L93.8 210.9 L99.35 212.54 L104.9 214.18 L110.46 215.4 L116.01 216.63 L121.56 217.45 L127.11 218.26 L132.66 218.26 L138.21 218.26 L143.76 218.06 L149.31 217.86 L154.86 218.47 L160.41 219.08 L165.96 220.31 L171.51 222.36 L177.06 223.58 L182.61 224.4 L188.16 223.58 L193.71 222.76 L199.26 221.54 L204.81 220.72 L210.37 220.11 L215.92 219.49 L221.47 219.29 L227.02 219.08 L232.57 218.67 L238.12 218.26 L243.67 218.06 L249.22 217.86 L254.77 217.04 L260.32 215.4 L265.87 213.36 L271.42 210.9 L276.97 208.45 L282.52 207.22 L288.07 206 L293.62 204.36 L299.17 204.77 L304.73 205.59 L310.28 205.59 L315.83 204.36 L321.38 202.72 L326.93 201.5 L332.48 199.86 L338.03 199.04 L343.58 197.41 L349.13 195.77 L354.68 194.95 L360.23 194.13 L365.78 193.72 L371.33 193.32 L376.88 193.72 L382.43 194.13 L387.98 193.72 L393.53 193.72 L399.08 194.13 L404.64 193.32 L410.19 192.91 L415.74 192.5 L421.29 193.72 L426.84 194.54 L432.39 197.41 L437.94 199.45 L443.49 201.09 L449.04 201.5 L454.59 200.68 L460.14 201.5 L465.69 201.09 L471.24 200.68 L476.79 200.27 L482.34 200.68 L487.89 203.54 L493.44 203.13 L498.99 204.77 L504.55 206 L510.1 205.59 L515.65 206.4 L521.2 207.22 L526.75 208.04 L532.3 208.04 L537.85 207.63 L543.4 206.4 L548.95 205.59 L554.5 205.18 L560.05 206.81 L565.6 208.45 L571.15 210.09 L576.7 211.31 L582.25 212.13 L587.8 210.9 L593.35 210.09 L598.91 209.68 L604.46 208.86 L610.01 209.27 L615.56 208.45 L621.11 208.86 L626.66 210.09 L632.21 210.49 L637.76 211.72 L643.31 212.54 L648.86 213.77 L654.41 214.58 L659.96 214.58 L665.51 215.4 L671.06 216.63 L676.61 217.86 L682.16 217.86 L687.71 219.9 L693.26 221.54 L698.82 223.99 L704.37 228.9 L709.92 231.76 L715.47 234.22 L721.02 234.22 L726.57 235.03 L732.12 235.03 L737.67 236.26 L743.22 237.49 L748.77 239.53 L754.32 241.17 L759.87 242.4 L765.42 244.85 L770.97 245.26 L776.52 246.08 L782.07 246.9 L787.62 247.71 L793.18 248.12 L798.73 247.71 L804.28 247.71 L809.83 244.85 L815.38 244.44 L820.93 245.67 L826.48 247.71 L832.03 250.58 L837.58 253.85 L843.13 255.89 L848.68 254.26 L854.23 255.89 L859.78 255.48 L865.33 254.67 L870.88 254.26 L876.43 254.26 L881.98 254.67 L887.53 255.08 L893.09 255.48 L898.64 255.89 L904.19 255.89 L909.74 255.48 L915.29 255.89 L920.84 257.12 L926.39 258.76 L931.94 257.53 L937.49 258.76 L943.04 255.48 L948.59 254.67 L954.14 255.08 L959.69 253.85 L965.24 255.08 L970.79 257.12 L976.34 258.76 L981.89 256.71 L987.44 255.08 L993 253.44 L998.55 251.8 L1004.1 250.58 L1009.65 249.76 L1015.2 249.35 L1020.75 249.35 L1026.3 249.76 L1031.85 250.17 L1037.4 246.49" stroke="#8b0000" stroke-width="2.3" fill="none" stroke-linejoin="round"/>
<rect x="60.5" y="183.5" width="976.9" height="81.8" fill="none" stroke="#000" stroke-width="1.1"/>
<text x="71.6" y="276.9" font-size="10.92" fill="#111" text-anchor="middle" textLength="12.09" lengthAdjust="spacingAndGlyphs">18</text>
<text x="104.9" y="276.9" font-size="10.92" fill="#111" text-anchor="middle">0</text>
<text x="138.21" y="276.9" font-size="10.92" fill="#111" text-anchor="middle">6</text>
<text x="171.51" y="276.9" font-size="10.92" fill="#111" text-anchor="middle" textLength="12.09" lengthAdjust="spacingAndGlyphs">12</text>
<text x="204.81" y="276.9" font-size="10.92" fill="#111" text-anchor="middle" textLength="12.09" lengthAdjust="spacingAndGlyphs">18</text>
<text x="238.12" y="276.9" font-size="10.92" fill="#111" text-anchor="middle">0</text>
<text x="271.42" y="276.9" font-size="10.92" fill="#111" text-anchor="middle">6</text>
<text x="304.73" y="276.9" font-size="10.92" fill="#111" text-anchor="middle" textLength="12.09" lengthAdjust="spacingAndGlyphs">12</text>
<text x="338.03" y="276.9" font-size="10.92" fill="#111" text-anchor="middle" textLength="12.09" lengthAdjust="spacingAndGlyphs">18</text>
<text x="371.33" y="276.9" font-size="10.92" fill="#111" text-anchor="middle">0</text>
<text x="404.64" y="276.9" font-size="10.92" fill="#111" text-anchor="middle">6</text>
<text x="437.94" y="276.9" font-size="10.92" fill="#111" text-anchor="middle" textLength="12.09" lengthAdjust="spacingAndGlyphs">12</text>
<text x="471.24" y="276.9" font-size="10.92" fill="#111" text-anchor="middle" textLength="12.09" lengthAdjust="spacingAndGlyphs">18</text>
<text x="504.55" y="276.9" font-size="10.92" fill="#111" text-anchor="middle">0</text>
<text x="537.85" y="276.9" font-size="10.92" fill="#111" text-anchor="middle">6</text>
<text x="571.15" y="276.9" font-size="10.92" fill="#111" text-anchor="middle" textLength="12.09" lengthAdjust="spacingAndGlyphs">12</text>
<text x="604.46" y="276.9" font-size="10.92" fill="#111" text-anchor="middle" textLength="12.09" lengthAdjust="spacingAndGlyphs">18</text>
<text x="637.76" y="276.9" font-size="10.92" fill="#111" text-anchor="middle">0</text>
<text x="671.06" y="276.9" font-size="10.92" fill="#111" text-anchor="middle">6</text>
<text x="704.37" y="276.9" font-size="10.92" fill="#111" text-anchor="middle" textLength="12.09" lengthAdjust="spacingAndGlyphs">12</text>
<text x="737.67" y="276.9" font-size="10.92" fill="#111" text-anchor="middle" textLength="12.09" lengthAdjust="spacingAndGlyphs">18</text>
<text x="770.97" y="276.9" font-size="10.92" fill="#111" text-anchor="middle">0</text>
<text x="804.28" y="276.9" font-size="10.92" fill="#111" text-anchor="middle">6</text>
<text x="837.58" y="276.9" font-size="10.92" fill="#111" text-anchor="middle" textLength="12.09" lengthAdjust="spacingAndGlyphs">12</text>
<text x="870.88" y="276.9" font-size="10.92" fill="#111" text-anchor="middle" textLength="12.09" lengthAdjust="spacingAndGlyphs">18</text>
<text x="904.19" y="276.9" font-size="10.92" fill="#111" text-anchor="middle">0</text>
<text x="937.49" y="276.9" font-size="10.92" fill="#111" text-anchor="middle">6</text>
<text x="970.79" y="276.9" font-size="10.92" fill="#111" text-anchor="middle" textLength="12.09" lengthAdjust="spacingAndGlyphs">12</text>
<text x="1004.1" y="276.9" font-size="10.92" fill="#111" text-anchor="middle" textLength="12.09" lengthAdjust="spacingAndGlyphs">18</text>
<text x="1037.4" y="276.9" font-size="10.92" fill="#111" text-anchor="middle">0</text>
<text x="56.3" y="187.3" font-size="10.92" fill="#111" text-anchor="end" textLength="18.13" lengthAdjust="spacingAndGlyphs">100</text>
<text x="56.3" y="207.75" font-size="10.92" fill="#111" text-anchor="end" textLength="12.09" lengthAdjust="spacingAndGlyphs">75</text>
<text x="56.3" y="228.2" font-size="10.92" fill="#111" text-anchor="end" textLength="12.09" lengthAdjust="spacingAndGlyphs">50</text>
<text x="56.3" y="248.65" font-size="10.92" fill="#111" text-anchor="end" textLength="12.09" lengthAdjust="spacingAndGlyphs">25</text>
<text x="56.3" y="269.1" font-size="10.92" fill="#111" text-anchor="end">0</text>
<text x="1040.8" y="187.3" font-size="10.92" fill="#111" textLength="24.18" lengthAdjust="spacingAndGlyphs">1029</text>
<text x="1040.8" y="207.75" font-size="10.92" fill="#111" textLength="24.18" lengthAdjust="spacingAndGlyphs">1024</text>
<text x="1040.8" y="228.2" font-size="10.92" fill="#111" textLength="24.18" lengthAdjust="spacingAndGlyphs">1019</text>
<text x="1040.8" y="248.65" font-size="10.92" fill="#111" textLength="24.18" lengthAdjust="spacingAndGlyphs">1014</text>
<text x="1040.8" y="269.1" font-size="10.92" fill="#111" textLength="24.18" lengthAdjust="spacingAndGlyphs">1009</text>
<text x="17.6" y="225" font-size="12.72" fill="#000" text-anchor="middle" textLength="75.57" lengthAdjust="spacingAndGlyphs" transform="rotate(-90 17.6 225)">relative Luft-</text>
<text x="32.3" y="225.4" font-size="12.72" fill="#000" text-anchor="middle" textLength="94.8" lengthAdjust="spacingAndGlyphs" transform="rotate(-90 32.3 225.4)">feuchtigkeit (%)</text>
<text x="1077" y="226" font-size="12.72" fill="#8b0000" text-anchor="middle" textLength="117.65" lengthAdjust="spacingAndGlyphs" transform="rotate(-90 1077 226)">red. Luftdruck (hPa)</text>
<line x1="71.5" y1="281.5" x2="71.5" y2="363.2" stroke="#b4b4b4" stroke-width="1"/>
<line x1="138.5" y1="281.5" x2="138.5" y2="363.2" stroke="#b4b4b4" stroke-width="1"/>
<line x1="171.5" y1="281.5" x2="171.5" y2="363.2" stroke="#b4b4b4" stroke-width="1"/>
<line x1="204.5" y1="281.5" x2="204.5" y2="363.2" stroke="#b4b4b4" stroke-width="1"/>
<line x1="271.5" y1="281.5" x2="271.5" y2="363.2" stroke="#b4b4b4" stroke-width="1"/>
<line x1="304.5" y1="281.5" x2="304.5" y2="363.2" stroke="#b4b4b4" stroke-width="1"/>
<line x1="338.5" y1="281.5" x2="338.5" y2="363.2" stroke="#b4b4b4" stroke-width="1"/>
<line x1="404.5" y1="281.5" x2="404.5" y2="363.2" stroke="#b4b4b4" stroke-width="1"/>
<line x1="437.5" y1="281.5" x2="437.5" y2="363.2" stroke="#b4b4b4" stroke-width="1"/>
<line x1="471.5" y1="281.5" x2="471.5" y2="363.2" stroke="#b4b4b4" stroke-width="1"/>
<line x1="537.5" y1="281.5" x2="537.5" y2="363.2" stroke="#b4b4b4" stroke-width="1"/>
<line x1="571.5" y1="281.5" x2="571.5" y2="363.2" stroke="#b4b4b4" stroke-width="1"/>
<line x1="604.5" y1="281.5" x2="604.5" y2="363.2" stroke="#b4b4b4" stroke-width="1"/>
<line x1="671.5" y1="281.5" x2="671.5" y2="363.2" stroke="#b4b4b4" stroke-width="1"/>
<line x1="704.5" y1="281.5" x2="704.5" y2="363.2" stroke="#b4b4b4" stroke-width="1"/>
<line x1="737.5" y1="281.5" x2="737.5" y2="363.2" stroke="#b4b4b4" stroke-width="1"/>
<line x1="804.5" y1="281.5" x2="804.5" y2="363.2" stroke="#b4b4b4" stroke-width="1"/>
<line x1="837.5" y1="281.5" x2="837.5" y2="363.2" stroke="#b4b4b4" stroke-width="1"/>
<line x1="870.5" y1="281.5" x2="870.5" y2="363.2" stroke="#b4b4b4" stroke-width="1"/>
<line x1="937.5" y1="281.5" x2="937.5" y2="363.2" stroke="#b4b4b4" stroke-width="1"/>
<line x1="970.5" y1="281.5" x2="970.5" y2="363.2" stroke="#b4b4b4" stroke-width="1"/>
<line x1="1004.5" y1="281.5" x2="1004.5" y2="363.2" stroke="#b4b4b4" stroke-width="1"/>
<line x1="60.5" y1="342.5" x2="1037.4" y2="342.5" stroke="#b4b4b4" stroke-width="1"/>
<line x1="60.5" y1="322.5" x2="1037.4" y2="322.5" stroke="#b4b4b4" stroke-width="1"/>
<line x1="60.5" y1="301.5" x2="1037.4" y2="301.5" stroke="#b4b4b4" stroke-width="1"/>
<rect x="60.5" y="361.2" width="11.1" height="2" fill="#fbb873"/>
<rect x="71.6" y="362.1" width="66.61" height="1.1" fill="#fbb873"/>
<rect x="138.21" y="361.2" width="66.61" height="2" fill="#fbb873"/>
<rect x="204.81" y="362.1" width="66.61" height="1.1" fill="#fbb873"/>
<rect x="271.42" y="361.32" width="66.61" height="1.88" fill="#fbb873"/>
<rect x="338.03" y="362.1" width="66.61" height="1.1" fill="#fbb873"/>
<rect x="404.64" y="361.57" width="66.61" height="1.63" fill="#fbb873"/>
<rect x="471.24" y="361.57" width="66.61" height="1.63" fill="#fbb873"/>
<rect x="537.85" y="360.34" width="66.61" height="2.86" fill="#fbb873"/>
<rect x="604.46" y="360.67" width="66.61" height="2.53" fill="#fbb873"/>
<rect x="671.06" y="360.67" width="66.61" height="2.53" fill="#fbb873"/>
<rect x="737.67" y="360.34" width="66.61" height="2.86" fill="#fbb873"/>
<rect x="804.28" y="360.34" width="66.61" height="2.86" fill="#fbb873"/>
<rect x="870.88" y="360.34" width="66.61" height="2.86" fill="#fbb873"/>
<rect x="937.49" y="359.52" width="66.61" height="3.68" fill="#fbb873"/>
<rect x="1004.1" y="356.83" width="33.3" height="6.37" fill="#fbb873"/>
<line x1="105.25" y1="281.5" x2="105.25" y2="363.2" stroke="#151515" stroke-width="1.6"/>
<line x1="238.47" y1="281.5" x2="238.47" y2="363.2" stroke="#151515" stroke-width="1.6"/>
<line x1="371.68" y1="281.5" x2="371.68" y2="363.2" stroke="#151515" stroke-width="1.6"/>
<line x1="504.9" y1="281.5" x2="504.9" y2="363.2" stroke="#151515" stroke-width="1.6"/>
<line x1="638.11" y1="281.5" x2="638.11" y2="363.2" stroke="#151515" stroke-width="1.6"/>
<line x1="771.32" y1="281.5" x2="771.32" y2="363.2" stroke="#151515" stroke-width="1.6"/>
<line x1="904.54" y1="281.5" x2="904.54" y2="363.2" stroke="#151515" stroke-width="1.6"/>
<path d="M60.5 355.64 L66.05 353.6 L71.6 353.6 L77.15 353.6 L82.7 353.6 L88.25 353.6 L93.8 353.6 L99.35 351.46 L104.9 351.46 L110.46 351.46 L116.01 351.46 L121.56 351.46 L127.11 351.46 L132.66 351.46 L138.21 351.46 L143.76 351.46 L149.31 351.46 L154.86 351.46 L160.41 351.46 L165.96 351.46 L171.51 351.46 L177.06 351.46 L182.61 353.6 L188.16 353.6 L193.71 355.64 L199.26 355.64 L204.81 355.64 L210.37 355.64 L215.92 355.64 L221.47 357.07 L227.02 357.07 L232.57 357.07 L238.12 357.07 L243.67 357.07 L249.22 357.07 L254.77 357.07 L260.32 357.07 L265.87 355.34 L271.42 355.34 L276.97 355.34 L282.52 355.34 L288.07 355.34 L293.62 355.34 L299.17 355.34 L304.73 355.34 L310.28 355.34 L315.83 355.34 L321.38 355.34 L326.93 357.07 L332.48 357.07 L338.03 357.07 L343.58 355.44 L349.13 355.44 L354.68 357.07 L360.23 355.64 L365.78 355.34 L371.33 355.34 L376.88 355.34 L382.43 355.34 L387.98 355.34 L393.53 355.34 L399.08 355.34 L404.64 355.34 L410.19 355.34 L415.74 355.34 L421.29 355.34 L426.84 353.29 L432.39 353.29 L437.94 353.29 L443.49 353.29 L449.04 353.29 L454.59 355.34 L460.14 355.34 L465.69 355.34 L471.24 355.34 L476.79 355.34 L482.34 355.34 L487.89 355.34 L493.44 355.34 L498.99 355.34 L504.55 355.34 L510.1 355.34 L515.65 355.34 L521.2 355.34 L526.75 355.34 L532.3 355.34 L537.85 355.34 L543.4 355.34 L548.95 353.29 L554.5 353.29 L560.05 353.29 L565.6 353.29 L571.15 353.29 L576.7 353.29 L582.25 353.29 L587.8 355.34 L593.35 355.34 L598.91 355.34 L604.46 355.34 L610.01 355.34 L615.56 355.34 L621.11 355.34 L626.66 355.34 L632.21 355.34 L637.76 355.34 L643.31 355.34 L648.86 355.34 L654.41 355.34 L659.96 355.34 L665.51 355.34 L671.06 355.34 L676.61 355.34 L682.16 355.34 L687.71 355.34 L693.26 355.34 L698.82 355.34 L704.37 353.6 L709.92 355.34 L715.47 355.34 L721.02 355.34 L726.57 355.34 L732.12 355.34 L737.67 355.34 L743.22 355.34 L748.77 355.34 L754.32 355.34 L759.87 355.34 L765.42 355.34 L770.97 354.83 L776.52 353.29 L782.07 353.29 L787.62 353.29 L793.18 353.29 L798.73 353.29 L804.28 353.29 L809.83 353.29 L815.38 353.29 L820.93 353.29 L826.48 353.29 L832.03 353.29 L837.58 353.29 L843.13 353.29 L848.68 353.29 L854.23 353.29 L859.78 353.29 L865.33 353.29 L870.88 353.29 L876.43 353.29 L881.98 353.29 L887.53 353.29 L893.09 353.29 L898.64 353.29 L904.19 353.29 L909.74 353.29 L915.29 353.29 L920.84 353.29 L926.39 353.29 L931.94 353.29 L937.49 353.29 L943.04 353.29 L948.59 353.29 L954.14 353.29 L959.69 353.29 L965.24 353.29 L970.79 353.29 L976.34 353.29 L981.89 353.29 L987.44 353.29 L993 353.29 L998.55 353.29 L1004.1 353.29 L1009.65 353.29 L1015.2 353.29 L1020.75 353.29 L1026.3 353.29 L1031.85 353.29 L1037.4 353.29" stroke="#000" stroke-width="2" fill="none" stroke-linejoin="round"/>
<path d="M60.5 347.98 L66.05 347.88 L71.6 346.04 L77.15 346.04 L82.7 346.04 L88.25 344.31 L93.8 344 L99.35 344 L104.9 341.86 L110.46 341.86 L116.01 341.86 L121.56 341.86 L127.11 341.86 L132.66 341.86 L138.21 341.86 L143.76 341.86 L149.31 341.86 L154.86 341.86 L160.41 341.86 L165.96 341.86 L171.51 344 L177.06 344 L182.61 344 L188.16 346.25 L193.71 347.98 L199.26 350.13 L204.81 347.98 L210.37 349.72 L215.92 349.72 L221.47 349.72 L227.02 349.72 L232.57 351.46 L238.12 351.46 L243.67 351.46 L249.22 351.46 L254.77 351.46 L260.32 351.46 L265.87 349.72 L271.42 349.72 L276.97 349.72 L282.52 349.72 L288.07 349.72 L293.62 349.72 L299.17 349.72 L304.73 349.72 L310.28 349.72 L315.83 349.72 L321.38 349.72 L326.93 351.46 L332.48 351.46 L338.03 349.72 L343.58 349.72 L349.13 349.72 L354.68 351.46 L360.23 351.46 L365.78 351.46 L371.33 349.72 L376.88 349.72 L382.43 351.46 L387.98 349.72 L393.53 349.72 L399.08 349.72 L404.64 349.72 L410.19 349.72 L415.74 347.98 L421.29 347.98 L426.84 347.98 L432.39 346.04 L437.94 346.04 L443.49 346.04 L449.04 346.04 L454.59 347.98 L460.14 347.98 L465.69 347.98 L471.24 347.98 L476.79 349.72 L482.34 347.98 L487.89 349.72 L493.44 349.72 L498.99 349.72 L504.55 349.72 L510.1 347.98 L515.65 349.72 L521.2 347.98 L526.75 347.98 L532.3 347.98 L537.85 347.98 L543.4 347.98 L548.95 347.98 L554.5 346.04 L560.05 346.04 L565.6 346.04 L571.15 346.04 L576.7 346.04 L582.25 346.04 L587.8 346.25 L593.35 347.98 L598.91 347.98 L604.46 347.98 L610.01 347.98 L615.56 347.98 L621.11 347.98 L626.66 347.98 L632.21 347.98 L637.76 347.98 L643.31 347.98 L648.86 347.98 L654.41 347.98 L659.96 347.98 L665.51 347.98 L671.06 347.98 L676.61 347.98 L682.16 347.98 L687.71 347.98 L693.26 347.98 L698.82 347.98 L704.37 347.37 L709.92 346.04 L715.47 346.04 L721.02 347.98 L726.57 347.98 L732.12 347.98 L737.67 347.98 L743.22 347.98 L748.77 347.98 L754.32 347.98 L759.87 347.98 L765.42 347.98 L770.97 346.04 L776.52 346.04 L782.07 346.04 L787.62 346.04 L793.18 346.04 L798.73 346.04 L804.28 346.04 L809.83 346.04 L815.38 344 L820.93 344 L826.48 344 L832.03 344 L837.58 344 L843.13 344 L848.68 344 L854.23 344 L859.78 346.04 L865.33 347.98 L870.88 346.04 L876.43 346.04 L881.98 346.04 L887.53 346.04 L893.09 346.04 L898.64 346.04 L904.19 344 L909.74 344 L915.29 344 L920.84 344 L926.39 344 L931.94 344 L937.49 346.04 L943.04 346.04 L948.59 346.04 L954.14 346.04 L959.69 346.04 L965.24 344 L970.79 344 L976.34 344 L981.89 346.04 L987.44 346.04 L993 347.98 L998.55 346.04 L1004.1 346.04 L1009.65 346.04 L1015.2 346.04 L1020.75 346.04 L1026.3 346.04 L1031.85 346.04 L1037.4 346.04" stroke="#b266ee" stroke-width="2" fill="none" stroke-linejoin="round"/>
<circle cx="71.6" cy="342.77" r="2.2" fill="#b266ee"/>
<text x="75.2" y="340.77" font-size="13.25" fill="#b266ee" textLength="15.14" lengthAdjust="spacingAndGlyphs">20</text>
<circle cx="138.21" cy="338.69" r="2.2" fill="#b266ee"/>
<text x="141.81" y="336.69" font-size="13.25" fill="#b266ee" textLength="15.14" lengthAdjust="spacingAndGlyphs">24</text>
<circle cx="204.81" cy="338.69" r="2.2" fill="#b266ee"/>
<text x="208.41" y="336.69" font-size="13.25" fill="#b266ee" textLength="15.14" lengthAdjust="spacingAndGlyphs">24</text>
<circle cx="271.42" cy="345.84" r="2.2" fill="#b266ee"/>
<text x="275.02" y="343.84" font-size="13.25" fill="#b266ee" textLength="15.14" lengthAdjust="spacingAndGlyphs">17</text>
<circle cx="338.03" cy="345.84" r="2.2" fill="#b266ee"/>
<text x="341.63" y="343.84" font-size="13.25" fill="#b266ee" textLength="15.14" lengthAdjust="spacingAndGlyphs">17</text>
<circle cx="404.64" cy="345.84" r="2.2" fill="#b266ee"/>
<text x="408.24" y="343.84" font-size="13.25" fill="#b266ee" textLength="15.14" lengthAdjust="spacingAndGlyphs">17</text>
<circle cx="471.24" cy="342.77" r="2.2" fill="#b266ee"/>
<text x="474.84" y="340.77" font-size="13.25" fill="#b266ee" textLength="15.14" lengthAdjust="spacingAndGlyphs">20</text>
<circle cx="537.85" cy="343.8" r="2.2" fill="#b266ee"/>
<text x="541.45" y="341.8" font-size="13.25" fill="#b266ee" textLength="15.14" lengthAdjust="spacingAndGlyphs">19</text>
<circle cx="604.46" cy="340.73" r="2.2" fill="#b266ee"/>
<text x="608.06" y="338.73" font-size="13.25" fill="#b266ee" textLength="15.14" lengthAdjust="spacingAndGlyphs">22</text>
<circle cx="671.06" cy="342.77" r="2.2" fill="#b266ee"/>
<text x="674.66" y="340.77" font-size="13.25" fill="#b266ee" textLength="15.14" lengthAdjust="spacingAndGlyphs">20</text>
<circle cx="737.67" cy="340.73" r="2.2" fill="#b266ee"/>
<text x="741.27" y="338.73" font-size="13.25" fill="#b266ee" textLength="15.14" lengthAdjust="spacingAndGlyphs">22</text>
<circle cx="804.28" cy="338.69" r="2.2" fill="#b266ee"/>
<text x="807.88" y="336.69" font-size="13.25" fill="#b266ee" textLength="15.14" lengthAdjust="spacingAndGlyphs">24</text>
<circle cx="870.88" cy="338.69" r="2.2" fill="#b266ee"/>
<text x="874.48" y="336.69" font-size="13.25" fill="#b266ee" textLength="15.14" lengthAdjust="spacingAndGlyphs">24</text>
<circle cx="937.49" cy="338.69" r="2.2" fill="#b266ee"/>
<text x="941.09" y="336.69" font-size="13.25" fill="#b266ee" textLength="15.14" lengthAdjust="spacingAndGlyphs">24</text>
<circle cx="1004.1" cy="340.73" r="2.2" fill="#b266ee"/>
<text x="1007.7" y="338.73" font-size="13.25" fill="#b266ee" textLength="15.14" lengthAdjust="spacingAndGlyphs">22</text>
<path d="M75.91 301.18 L67.29 293.42 M75.63 294.44 L67.29 293.42 L69.18 301.6" stroke="#000" stroke-width="1.4" fill="none" stroke-linecap="butt" stroke-linejoin="round"/>
<path d="M92.7 301.03 L83.81 293.57 M92.18 294.3 L83.81 293.57 L85.98 301.69" stroke="#000" stroke-width="1.4" fill="none" stroke-linecap="butt" stroke-linejoin="round"/>
<path d="M109.77 300.46 L100.04 294.14 M108.44 293.85 L100.04 294.14 L103.19 301.93" stroke="#000" stroke-width="1.4" fill="none" stroke-linecap="butt" stroke-linejoin="round"/>
<path d="M126.58 300.2 L116.53 294.4 M124.9 293.67 L116.53 294.4 L120.08 302.01" stroke="#000" stroke-width="1.4" fill="none" stroke-linecap="butt" stroke-linejoin="round"/>
<path d="M143.23 300.2 L133.19 294.4 M141.55 293.67 L133.19 294.4 L136.74 302.01" stroke="#000" stroke-width="1.4" fill="none" stroke-linecap="butt" stroke-linejoin="round"/>
<path d="M160.12 299.75 L149.6 294.85 M157.88 293.39 L149.6 294.85 L153.8 302.12" stroke="#000" stroke-width="1.4" fill="none" stroke-linecap="butt" stroke-linejoin="round"/>
<path d="M176.77 299.75 L166.25 294.85 M174.53 293.39 L166.25 294.85 L170.45 302.12" stroke="#000" stroke-width="1.4" fill="none" stroke-linecap="butt" stroke-linejoin="round"/>
<path d="M193.42 299.75 L182.91 294.85 M191.18 293.39 L182.91 294.85 L187.11 302.12" stroke="#000" stroke-width="1.4" fill="none" stroke-linecap="butt" stroke-linejoin="round"/>
<path d="M209.84 300.2 L199.79 294.4 M208.16 293.67 L199.79 294.4 L203.34 302.01" stroke="#000" stroke-width="1.4" fill="none" stroke-linecap="butt" stroke-linejoin="round"/>
<path d="M225.35 301.61 L217.59 292.99 M225.77 294.88 L217.59 292.99 L218.61 301.33" stroke="#000" stroke-width="1.4" fill="none" stroke-linecap="butt" stroke-linejoin="round"/>
<path d="M238.62 303.08 L237.61 291.52 M243.01 297.96 L237.61 291.52 L233.41 298.8" stroke="#000" stroke-width="1.4" fill="none" stroke-linecap="butt" stroke-linejoin="round"/>
<path d="M254.77 303.1 L254.77 291.5 M259.59 298.38 L254.77 291.5 L249.95 298.38" stroke="#000" stroke-width="1.4" fill="none" stroke-linecap="butt" stroke-linejoin="round"/>
<path d="M270.02 302.93 L272.82 291.67 M275.84 299.51 L272.82 291.67 L266.49 297.18" stroke="#000" stroke-width="1.4" fill="none" stroke-linecap="butt" stroke-linejoin="round"/>
<path d="M285.99 302.71 L290.15 291.89 M292.18 300.04 L290.15 291.89 L283.19 296.58" stroke="#000" stroke-width="1.4" fill="none" stroke-linecap="butt" stroke-linejoin="round"/>
<path d="M302.65 302.71 L306.8 291.89 M308.84 300.04 L306.8 291.89 L299.84 296.58" stroke="#000" stroke-width="1.4" fill="none" stroke-linecap="butt" stroke-linejoin="round"/>
<path d="M321.17 303.1 L321.58 291.5 M326.15 298.55 L321.58 291.5 L316.52 298.21" stroke="#000" stroke-width="1.4" fill="none" stroke-linecap="butt" stroke-linejoin="round"/>
<path d="M339.92 302.78 L336.14 291.82 M342.94 296.75 L336.14 291.82 L333.82 299.89" stroke="#000" stroke-width="1.4" fill="none" stroke-linecap="butt" stroke-linejoin="round"/>
<path d="M355.59 303.03 L353.77 291.57 M359.61 297.61 L353.77 291.57 L350.09 299.12" stroke="#000" stroke-width="1.4" fill="none" stroke-linecap="butt" stroke-linejoin="round"/>
<path d="M372.64 302.95 L370.03 291.65 M376.27 297.27 L370.03 291.65 L366.88 299.44" stroke="#000" stroke-width="1.4" fill="none" stroke-linecap="butt" stroke-linejoin="round"/>
<path d="M390.06 302.71 L385.9 291.89 M392.87 296.58 L385.9 291.89 L383.87 300.04" stroke="#000" stroke-width="1.4" fill="none" stroke-linecap="butt" stroke-linejoin="round"/>
<path d="M406.43 302.82 L402.84 291.78 M409.55 296.84 L402.84 291.78 L400.39 299.82" stroke="#000" stroke-width="1.4" fill="none" stroke-linecap="butt" stroke-linejoin="round"/>
<path d="M422.09 303.04 L420.48 291.56 M426.21 297.7 L420.48 291.56 L416.67 299.04" stroke="#000" stroke-width="1.4" fill="none" stroke-linecap="butt" stroke-linejoin="round"/>
<path d="M438.75 303.04 L437.13 291.56 M442.86 297.7 L437.13 291.56 L433.32 299.04" stroke="#000" stroke-width="1.4" fill="none" stroke-linecap="butt" stroke-linejoin="round"/>
<path d="M456.57 302.75 L452.61 291.85 M459.49 296.67 L452.61 291.85 L450.43 299.96" stroke="#000" stroke-width="1.4" fill="none" stroke-linecap="butt" stroke-linejoin="round"/>
<path d="M474.14 302.32 L468.34 292.28 M475.96 295.83 L468.34 292.28 L467.61 300.65" stroke="#000" stroke-width="1.4" fill="none" stroke-linecap="butt" stroke-linejoin="round"/>
<path d="M490.79 302.32 L484.99 292.28 M492.61 295.83 L484.99 292.28 L484.26 300.65" stroke="#000" stroke-width="1.4" fill="none" stroke-linecap="butt" stroke-linejoin="round"/>
<path d="M507.45 302.32 L501.65 292.28 M509.26 295.83 L501.65 292.28 L500.91 300.65" stroke="#000" stroke-width="1.4" fill="none" stroke-linecap="butt" stroke-linejoin="round"/>
<path d="M524.1 302.32 L518.3 292.28 M525.91 295.83 L518.3 292.28 L517.57 300.65" stroke="#000" stroke-width="1.4" fill="none" stroke-linecap="butt" stroke-linejoin="round"/>
<path d="M539.83 302.75 L535.87 291.85 M542.75 296.67 L535.87 291.85 L533.69 299.96" stroke="#000" stroke-width="1.4" fill="none" stroke-linecap="butt" stroke-linejoin="round"/>
<path d="M555.51 303.01 L553.49 291.59 M559.43 297.53 L553.49 291.59 L549.94 299.2" stroke="#000" stroke-width="1.4" fill="none" stroke-linecap="butt" stroke-linejoin="round"/>
<path d="M572.36 302.97 L569.95 291.63 M576.09 297.36 L569.95 291.63 L566.66 299.36" stroke="#000" stroke-width="1.4" fill="none" stroke-linecap="butt" stroke-linejoin="round"/>
<path d="M590.26 302.56 L585.35 292.04 M592.63 296.24 L585.35 292.04 L583.89 300.32" stroke="#000" stroke-width="1.4" fill="none" stroke-linecap="butt" stroke-linejoin="round"/>
<path d="M606.91 302.56 L602 292.04 M609.28 296.24 L602 292.04 L600.55 300.32" stroke="#000" stroke-width="1.4" fill="none" stroke-linecap="butt" stroke-linejoin="round"/>
<path d="M623.56 302.56 L618.66 292.04 M625.93 296.24 L618.66 292.04 L617.2 300.32" stroke="#000" stroke-width="1.4" fill="none" stroke-linecap="butt" stroke-linejoin="round"/>
<path d="M640.21 302.56 L635.31 292.04 M642.58 296.24 L635.31 292.04 L633.85 300.32" stroke="#000" stroke-width="1.4" fill="none" stroke-linecap="butt" stroke-linejoin="round"/>
<path d="M656.86 302.56 L651.96 292.04 M659.23 296.24 L651.96 292.04 L650.5 300.32" stroke="#000" stroke-width="1.4" fill="none" stroke-linecap="butt" stroke-linejoin="round"/>
<path d="M673.51 302.56 L668.61 292.04 M675.89 296.24 L668.61 292.04 L667.15 300.32" stroke="#000" stroke-width="1.4" fill="none" stroke-linecap="butt" stroke-linejoin="round"/>
<path d="M690.17 302.56 L685.26 292.04 M692.54 296.24 L685.26 292.04 L683.8 300.32" stroke="#000" stroke-width="1.4" fill="none" stroke-linecap="butt" stroke-linejoin="round"/>
<path d="M706.35 302.75 L702.38 291.85 M709.26 296.67 L702.38 291.85 L700.21 299.96" stroke="#000" stroke-width="1.4" fill="none" stroke-linecap="butt" stroke-linejoin="round"/>
<path d="M725.12 301.4 L716.92 293.2 M725.19 294.66 L716.92 293.2 L718.38 301.47" stroke="#000" stroke-width="1.4" fill="none" stroke-linecap="butt" stroke-linejoin="round"/>
<path d="M741.77 301.4 L733.57 293.2 M741.84 294.66 L733.57 293.2 L735.03 301.47" stroke="#000" stroke-width="1.4" fill="none" stroke-linecap="butt" stroke-linejoin="round"/>
<path d="M758.35 301.47 L750.29 293.13 M758.54 294.73 L750.29 293.13 L751.61 301.42" stroke="#000" stroke-width="1.4" fill="none" stroke-linecap="butt" stroke-linejoin="round"/>
<path d="M775.07 301.4 L766.87 293.2 M775.14 294.66 L766.87 293.2 L768.33 301.47" stroke="#000" stroke-width="1.4" fill="none" stroke-linecap="butt" stroke-linejoin="round"/>
<path d="M791.93 301.18 L783.31 293.42 M791.65 294.44 L783.31 293.42 L785.2 301.6" stroke="#000" stroke-width="1.4" fill="none" stroke-linecap="butt" stroke-linejoin="round"/>
<path d="M808.85 300.87 L799.71 293.73 M808.09 294.17 L799.71 293.73 L802.16 301.76" stroke="#000" stroke-width="1.4" fill="none" stroke-linecap="butt" stroke-linejoin="round"/>
<path d="M825.85 300.37 L816.01 294.23 M824.4 293.79 L816.01 294.23 L819.29 301.96" stroke="#000" stroke-width="1.4" fill="none" stroke-linecap="butt" stroke-linejoin="round"/>
<path d="M842.84 299.75 L832.32 294.85 M840.6 293.39 L832.32 294.85 L836.52 302.12" stroke="#000" stroke-width="1.4" fill="none" stroke-linecap="butt" stroke-linejoin="round"/>
<path d="M860.03 297.3 L848.43 297.3 M855.31 292.48 L848.43 297.3 L855.31 302.12" stroke="#000" stroke-width="1.4" fill="none" stroke-linecap="butt" stroke-linejoin="round"/>
<path d="M876.68 297.1 L865.09 297.5 M871.8 292.45 L865.09 297.5 L872.13 302.08" stroke="#000" stroke-width="1.4" fill="none" stroke-linecap="butt" stroke-linejoin="round"/>
<path d="M893.33 297.1 L881.74 297.5 M888.45 292.45 L881.74 297.5 L888.78 302.08" stroke="#000" stroke-width="1.4" fill="none" stroke-linecap="butt" stroke-linejoin="round"/>
<path d="M909.98 297.1 L898.39 297.5 M905.1 292.45 L898.39 297.5 L905.43 302.08" stroke="#000" stroke-width="1.4" fill="none" stroke-linecap="butt" stroke-linejoin="round"/>
<path d="M926.18 299.57 L915.5 295.03 M923.72 293.29 L915.5 295.03 L919.95 302.16" stroke="#000" stroke-width="1.4" fill="none" stroke-linecap="butt" stroke-linejoin="round"/>
<path d="M942.79 299.66 L932.19 294.94 M940.44 293.34 L932.19 294.94 L936.52 302.14" stroke="#000" stroke-width="1.4" fill="none" stroke-linecap="butt" stroke-linejoin="round"/>
<path d="M959.35 299.84 L948.93 294.76 M957.23 293.44 L948.93 294.76 L953 302.1" stroke="#000" stroke-width="1.4" fill="none" stroke-linecap="butt" stroke-linejoin="round"/>
<path d="M976.01 299.84 L965.58 294.76 M973.88 293.44 L965.58 294.76 L969.65 302.1" stroke="#000" stroke-width="1.4" fill="none" stroke-linecap="butt" stroke-linejoin="round"/>
<path d="M992.82 299.47 L982.07 295.13 M990.25 293.24 L982.07 295.13 L986.64 302.17" stroke="#000" stroke-width="1.4" fill="none" stroke-linecap="butt" stroke-linejoin="round"/>
<path d="M1009.9 297.3 L998.3 297.3 M1005.18 292.48 L998.3 297.3 L1005.18 302.12" stroke="#000" stroke-width="1.4" fill="none" stroke-linecap="butt" stroke-linejoin="round"/>
<path d="M1026.55 297.3 L1014.95 297.3 M1021.83 292.48 L1014.95 297.3 L1021.83 302.12" stroke="#000" stroke-width="1.4" fill="none" stroke-linecap="butt" stroke-linejoin="round"/>
<text x="66.5" y="291" font-size="10.28" fill="#000" textLength="176.44" lengthAdjust="spacingAndGlyphs">Mittlere Windgeschwindigkeit 10min</text>
<text x="271" y="291" font-size="10.18" fill="#b266ee" textLength="63.33" lengthAdjust="spacingAndGlyphs">Windböen 1h</text>
<text x="375.6" y="291" font-size="10.18" fill="#b266ee" textLength="124.33" lengthAdjust="spacingAndGlyphs">Zahl: max. Böe letzte 12h</text>
<text x="770" y="291" font-size="10.18" fill="#000" textLength="138.92" lengthAdjust="spacingAndGlyphs">12h Wahrscheinlichkeit Böen</text>
<text x="917" y="291" font-size="10.18" fill="#d9a066" textLength="21.4" lengthAdjust="spacingAndGlyphs" font-weight="bold">&gt;45</text>
<text x="941" y="291" font-size="10.18" fill="#e88a72" textLength="21.4" lengthAdjust="spacingAndGlyphs" font-weight="bold">&gt;75</text>
<text x="969" y="291" font-size="10.18" fill="#e070e0" textLength="58.15" lengthAdjust="spacingAndGlyphs" font-weight="bold">&gt;100 km/h</text>
<rect x="60.5" y="281.5" width="976.9" height="81.7" fill="none" stroke="#000" stroke-width="1.1"/>
<text x="71.6" y="374.8" font-size="10.92" fill="#111" text-anchor="middle" textLength="12.09" lengthAdjust="spacingAndGlyphs">18</text>
<text x="104.9" y="374.8" font-size="10.92" fill="#111" text-anchor="middle">0</text>
<text x="138.21" y="374.8" font-size="10.92" fill="#111" text-anchor="middle">6</text>
<text x="171.51" y="374.8" font-size="10.92" fill="#111" text-anchor="middle" textLength="12.09" lengthAdjust="spacingAndGlyphs">12</text>
<text x="204.81" y="374.8" font-size="10.92" fill="#111" text-anchor="middle" textLength="12.09" lengthAdjust="spacingAndGlyphs">18</text>
<text x="238.12" y="374.8" font-size="10.92" fill="#111" text-anchor="middle">0</text>
<text x="271.42" y="374.8" font-size="10.92" fill="#111" text-anchor="middle">6</text>
<text x="304.73" y="374.8" font-size="10.92" fill="#111" text-anchor="middle" textLength="12.09" lengthAdjust="spacingAndGlyphs">12</text>
<text x="338.03" y="374.8" font-size="10.92" fill="#111" text-anchor="middle" textLength="12.09" lengthAdjust="spacingAndGlyphs">18</text>
<text x="371.33" y="374.8" font-size="10.92" fill="#111" text-anchor="middle">0</text>
<text x="404.64" y="374.8" font-size="10.92" fill="#111" text-anchor="middle">6</text>
<text x="437.94" y="374.8" font-size="10.92" fill="#111" text-anchor="middle" textLength="12.09" lengthAdjust="spacingAndGlyphs">12</text>
<text x="471.24" y="374.8" font-size="10.92" fill="#111" text-anchor="middle" textLength="12.09" lengthAdjust="spacingAndGlyphs">18</text>
<text x="504.55" y="374.8" font-size="10.92" fill="#111" text-anchor="middle">0</text>
<text x="537.85" y="374.8" font-size="10.92" fill="#111" text-anchor="middle">6</text>
<text x="571.15" y="374.8" font-size="10.92" fill="#111" text-anchor="middle" textLength="12.09" lengthAdjust="spacingAndGlyphs">12</text>
<text x="604.46" y="374.8" font-size="10.92" fill="#111" text-anchor="middle" textLength="12.09" lengthAdjust="spacingAndGlyphs">18</text>
<text x="637.76" y="374.8" font-size="10.92" fill="#111" text-anchor="middle">0</text>
<text x="671.06" y="374.8" font-size="10.92" fill="#111" text-anchor="middle">6</text>
<text x="704.37" y="374.8" font-size="10.92" fill="#111" text-anchor="middle" textLength="12.09" lengthAdjust="spacingAndGlyphs">12</text>
<text x="737.67" y="374.8" font-size="10.92" fill="#111" text-anchor="middle" textLength="12.09" lengthAdjust="spacingAndGlyphs">18</text>
<text x="770.97" y="374.8" font-size="10.92" fill="#111" text-anchor="middle">0</text>
<text x="804.28" y="374.8" font-size="10.92" fill="#111" text-anchor="middle">6</text>
<text x="837.58" y="374.8" font-size="10.92" fill="#111" text-anchor="middle" textLength="12.09" lengthAdjust="spacingAndGlyphs">12</text>
<text x="870.88" y="374.8" font-size="10.92" fill="#111" text-anchor="middle" textLength="12.09" lengthAdjust="spacingAndGlyphs">18</text>
<text x="904.19" y="374.8" font-size="10.92" fill="#111" text-anchor="middle">0</text>
<text x="937.49" y="374.8" font-size="10.92" fill="#111" text-anchor="middle">6</text>
<text x="970.79" y="374.8" font-size="10.92" fill="#111" text-anchor="middle" textLength="12.09" lengthAdjust="spacingAndGlyphs">12</text>
<text x="1004.1" y="374.8" font-size="10.92" fill="#111" text-anchor="middle" textLength="12.09" lengthAdjust="spacingAndGlyphs">18</text>
<text x="1037.4" y="374.8" font-size="10.92" fill="#111" text-anchor="middle">0</text>
<text x="56.3" y="305.73" font-size="10.92" fill="#111" text-anchor="end" textLength="12.09" lengthAdjust="spacingAndGlyphs">60</text>
<text x="56.3" y="326.15" font-size="10.92" fill="#111" text-anchor="end" textLength="12.09" lengthAdjust="spacingAndGlyphs">40</text>
<text x="56.3" y="346.57" font-size="10.92" fill="#111" text-anchor="end" textLength="12.09" lengthAdjust="spacingAndGlyphs">20</text>
<text x="56.3" y="367" font-size="10.92" fill="#111" text-anchor="end">0</text>
<text x="1041.6" y="285.3" font-size="10.92" fill="#111" textLength="18.13" lengthAdjust="spacingAndGlyphs">100</text>
<text x="1041.6" y="305.73" font-size="10.92" fill="#111" textLength="12.09" lengthAdjust="spacingAndGlyphs">75</text>
<text x="1041.6" y="326.15" font-size="10.92" fill="#111" textLength="12.09" lengthAdjust="spacingAndGlyphs">50</text>
<text x="1041.6" y="346.57" font-size="10.92" fill="#111" textLength="12.09" lengthAdjust="spacingAndGlyphs">25</text>
<text x="1041.6" y="367" font-size="10.92" fill="#111">0</text>
<text x="19.6" y="324.6" font-size="12.72" fill="#000" text-anchor="middle" textLength="73.01" lengthAdjust="spacingAndGlyphs" transform="rotate(-90 19.6 324.6)">Wind (km/h)</text>
<line x1="71.5" y1="379.6" x2="71.5" y2="504.3" stroke="#b4b4b4" stroke-width="1"/>
<line x1="138.5" y1="379.6" x2="138.5" y2="504.3" stroke="#b4b4b4" stroke-width="1"/>
<line x1="171.5" y1="379.6" x2="171.5" y2="504.3" stroke="#b4b4b4" stroke-width="1"/>
<line x1="204.5" y1="379.6" x2="204.5" y2="504.3" stroke="#b4b4b4" stroke-width="1"/>
<line x1="271.5" y1="379.6" x2="271.5" y2="504.3" stroke="#b4b4b4" stroke-width="1"/>
<line x1="304.5" y1="379.6" x2="304.5" y2="504.3" stroke="#b4b4b4" stroke-width="1"/>
<line x1="338.5" y1="379.6" x2="338.5" y2="504.3" stroke="#b4b4b4" stroke-width="1"/>
<line x1="404.5" y1="379.6" x2="404.5" y2="504.3" stroke="#b4b4b4" stroke-width="1"/>
<line x1="437.5" y1="379.6" x2="437.5" y2="504.3" stroke="#b4b4b4" stroke-width="1"/>
<line x1="471.5" y1="379.6" x2="471.5" y2="504.3" stroke="#b4b4b4" stroke-width="1"/>
<line x1="537.5" y1="379.6" x2="537.5" y2="504.3" stroke="#b4b4b4" stroke-width="1"/>
<line x1="571.5" y1="379.6" x2="571.5" y2="504.3" stroke="#b4b4b4" stroke-width="1"/>
<line x1="604.5" y1="379.6" x2="604.5" y2="504.3" stroke="#b4b4b4" stroke-width="1"/>
<line x1="671.5" y1="379.6" x2="671.5" y2="504.3" stroke="#b4b4b4" stroke-width="1"/>
<line x1="704.5" y1="379.6" x2="704.5" y2="504.3" stroke="#b4b4b4" stroke-width="1"/>
<line x1="737.5" y1="379.6" x2="737.5" y2="504.3" stroke="#b4b4b4" stroke-width="1"/>
<line x1="804.5" y1="379.6" x2="804.5" y2="504.3" stroke="#b4b4b4" stroke-width="1"/>
<line x1="837.5" y1="379.6" x2="837.5" y2="504.3" stroke="#b4b4b4" stroke-width="1"/>
<line x1="870.5" y1="379.6" x2="870.5" y2="504.3" stroke="#b4b4b4" stroke-width="1"/>
<line x1="937.5" y1="379.6" x2="937.5" y2="504.3" stroke="#b4b4b4" stroke-width="1"/>
<line x1="970.5" y1="379.6" x2="970.5" y2="504.3" stroke="#b4b4b4" stroke-width="1"/>
<line x1="1004.5" y1="379.6" x2="1004.5" y2="504.3" stroke="#b4b4b4" stroke-width="1"/>
<line x1="60.5" y1="473.5" x2="1037.4" y2="473.5" stroke="#b4b4b4" stroke-width="1"/>
<line x1="60.5" y1="441.5" x2="1037.4" y2="441.5" stroke="#b4b4b4" stroke-width="1"/>
<line x1="60.5" y1="410.5" x2="1037.4" y2="410.5" stroke="#b4b4b4" stroke-width="1"/>
<line x1="105.25" y1="379.6" x2="105.25" y2="504.3" stroke="#151515" stroke-width="1.6"/>
<line x1="238.47" y1="379.6" x2="238.47" y2="504.3" stroke="#151515" stroke-width="1.6"/>
<line x1="371.68" y1="379.6" x2="371.68" y2="504.3" stroke="#151515" stroke-width="1.6"/>
<line x1="504.9" y1="379.6" x2="504.9" y2="504.3" stroke="#151515" stroke-width="1.6"/>
<line x1="638.11" y1="379.6" x2="638.11" y2="504.3" stroke="#151515" stroke-width="1.6"/>
<line x1="771.32" y1="379.6" x2="771.32" y2="504.3" stroke="#151515" stroke-width="1.6"/>
<line x1="904.54" y1="379.6" x2="904.54" y2="504.3" stroke="#151515" stroke-width="1.6"/>
<path d="M71.6 498.06 L104.9 490.58 L138.21 495.57 L171.51 494.32 L204.81 499.31 L238.12 499.31 L271.42 496.82 L304.73 491.83 L338.03 486.84 L371.33 486.84 L404.64 496.82 L437.94 495.57 L471.24 496.82 L504.55 498.06 L537.85 495.57 L571.15 491.83 L604.46 495.57 L637.76 493.08 L671.06 475.62 L704.37 440.7 L737.67 452.42 L770.97 435.72 L804.28 445.69 L837.58 437.34 L870.88 458.54 L904.19 449.43 L937.49 453.8 L970.79 449.81 L1004.1 452.3 L1037.4 436.96" stroke="#808080" stroke-width="1.6" fill="none" stroke-linejoin="round"/>
<text x="63.28" y="503" font-size="10.92" fill="#888888" text-anchor="middle">0</text>
<text x="79.93" y="503" font-size="10.92" fill="#888888" text-anchor="middle">0</text>
<text x="96.58" y="503" font-size="10.92" fill="#888888" text-anchor="middle">0</text>
<text x="113.23" y="503" font-size="10.92" fill="#888888" text-anchor="middle">0</text>
<text x="129.88" y="503" font-size="10.92" fill="#888888" text-anchor="middle">0</text>
<text x="146.53" y="503" font-size="10.92" fill="#888888" text-anchor="middle">0</text>
<text x="163.19" y="503" font-size="10.92" fill="#888888" text-anchor="middle">0</text>
<text x="179.84" y="503" font-size="10.92" fill="#888888" text-anchor="middle">0</text>
<text x="196.49" y="503" font-size="10.92" fill="#888888" text-anchor="middle">0</text>
<text x="213.14" y="503" font-size="10.92" fill="#888888" text-anchor="middle">0</text>
<text x="229.79" y="503" font-size="10.92" fill="#888888" text-anchor="middle">0</text>
<text x="246.44" y="503" font-size="10.92" fill="#888888" text-anchor="middle">0</text>
<text x="263.1" y="503" font-size="10.92" fill="#888888" text-anchor="middle">0</text>
<text x="279.75" y="503" font-size="10.92" fill="#888888" text-anchor="middle">0</text>
<text x="296.4" y="503" font-size="10.92" fill="#888888" text-anchor="middle">0</text>
<text x="313.05" y="503" font-size="10.92" fill="#888888" text-anchor="middle">0</text>
<text x="329.7" y="503" font-size="10.92" fill="#888888" text-anchor="middle">0</text>
<text x="346.35" y="503" font-size="10.92" fill="#888888" text-anchor="middle">0</text>
<text x="363.01" y="503" font-size="10.92" fill="#888888" text-anchor="middle">0</text>
<text x="379.66" y="503" font-size="10.92" fill="#888888" text-anchor="middle">0</text>
<text x="396.31" y="503" font-size="10.92" fill="#888888" text-anchor="middle">0</text>
<text x="412.96" y="503" font-size="10.92" fill="#888888" text-anchor="middle">0</text>
<text x="429.61" y="503" font-size="10.92" fill="#888888" text-anchor="middle">0</text>
<text x="446.26" y="503" font-size="10.92" fill="#888888" text-anchor="middle">0</text>
<text x="462.92" y="503" font-size="10.92" fill="#888888" text-anchor="middle">0</text>
<text x="479.57" y="503" font-size="10.92" fill="#888888" text-anchor="middle">0</text>
<text x="496.22" y="503" font-size="10.92" fill="#888888" text-anchor="middle">0</text>
<text x="512.87" y="503" font-size="10.92" fill="#888888" text-anchor="middle">0</text>
<text x="529.52" y="503" font-size="10.92" fill="#888888" text-anchor="middle">0</text>
<text x="546.17" y="503" font-size="10.92" fill="#888888" text-anchor="middle">0</text>
<text x="562.83" y="503" font-size="10.92" fill="#888888" text-anchor="middle">0</text>
<text x="579.48" y="503" font-size="10.92" fill="#888888" text-anchor="middle">0</text>
<text x="596.13" y="503" font-size="10.92" fill="#888888" text-anchor="middle">0</text>
<text x="612.78" y="503" font-size="10.92" fill="#888888" text-anchor="middle">0</text>
<text x="629.43" y="503" font-size="10.92" fill="#888888" text-anchor="middle">0</text>
<text x="646.08" y="503" font-size="10.92" fill="#888888" text-anchor="middle">0</text>
<text x="662.74" y="503" font-size="10.92" fill="#888888" text-anchor="middle">0</text>
<text x="679.39" y="503" font-size="10.92" fill="#888888" text-anchor="middle">0</text>
<text x="696.04" y="503" font-size="10.92" fill="#888888" text-anchor="middle">0</text>
<text x="712.69" y="503" font-size="10.92" fill="#888888" text-anchor="middle">0</text>
<text x="729.34" y="503" font-size="10.92" fill="#888888" text-anchor="middle">0</text>
<text x="746" y="503" font-size="10.92" fill="#888888" text-anchor="middle">0</text>
<text x="762.65" y="503" font-size="10.92" fill="#888888" text-anchor="middle">0</text>
<text x="779.3" y="503" font-size="10.92" fill="#888888" text-anchor="middle">0</text>
<text x="795.95" y="503" font-size="10.92" fill="#888888" text-anchor="middle">0</text>
<text x="812.6" y="503" font-size="10.92" fill="#888888" text-anchor="middle">0</text>
<text x="829.25" y="503" font-size="10.92" fill="#888888" text-anchor="middle">0</text>
<text x="845.91" y="503" font-size="10.92" fill="#888888" text-anchor="middle">0</text>
<text x="862.56" y="503" font-size="10.92" fill="#888888" text-anchor="middle">0</text>
<text x="879.21" y="503" font-size="10.92" fill="#888888" text-anchor="middle">0</text>
<text x="895.86" y="503" font-size="10.92" fill="#888888" text-anchor="middle">0</text>
<text x="912.51" y="503" font-size="10.92" fill="#888888" text-anchor="middle">0</text>
<text x="929.16" y="503" font-size="10.92" fill="#888888" text-anchor="middle">0</text>
<text x="945.82" y="503" font-size="10.92" fill="#888888" text-anchor="middle">0</text>
<text x="962.47" y="503" font-size="10.92" fill="#888888" text-anchor="middle">0</text>
<text x="979.12" y="503" font-size="10.92" fill="#888888" text-anchor="middle">0</text>
<text x="995.77" y="503" font-size="10.92" fill="#888888" text-anchor="middle">0</text>
<text x="1012.42" y="503" font-size="10.92" fill="#888888" text-anchor="middle">0</text>
<text x="1029.07" y="503" font-size="10.92" fill="#888888" text-anchor="middle">0</text>
<text x="61.6" y="391.2" font-size="11.02" fill="#000" textLength="30.98" lengthAdjust="spacingAndGlyphs">RR12h</text>
<text x="61.6" y="403.3" font-size="11.02" fill="#000" textLength="26.73" lengthAdjust="spacingAndGlyphs">ww3h</text>
<text x="96.18" y="403.3" font-size="10.39" fill="#111" text-anchor="middle" textLength="10.31" lengthAdjust="spacingAndGlyphs">45</text>
<text x="112.83" y="403.3" font-size="10.39" fill="#111" text-anchor="middle" textLength="10.31" lengthAdjust="spacingAndGlyphs">45</text>
<text x="129.48" y="403.3" font-size="10.39" fill="#111" text-anchor="middle" textLength="10.31" lengthAdjust="spacingAndGlyphs">45</text>
<text x="146.13" y="403.3" font-size="10.39" fill="#111" text-anchor="middle" textLength="10.31" lengthAdjust="spacingAndGlyphs">45</text>
<text x="162.79" y="403.3" font-size="10.39" fill="#111" text-anchor="middle" textLength="10.31" lengthAdjust="spacingAndGlyphs">45</text>
<text x="179.44" y="403.3" font-size="10.39" fill="#111" text-anchor="middle" textLength="10.31" lengthAdjust="spacingAndGlyphs">45</text>
<text x="196.09" y="403.3" font-size="10.39" fill="#111" text-anchor="middle" textLength="10.31" lengthAdjust="spacingAndGlyphs">45</text>
<text x="212.74" y="403.3" font-size="10.39" fill="#111" text-anchor="middle" textLength="10.31" lengthAdjust="spacingAndGlyphs">45</text>
<text x="229.39" y="403.3" font-size="10.39" fill="#111" text-anchor="middle" textLength="10.31" lengthAdjust="spacingAndGlyphs">45</text>
<text x="246.04" y="403.3" font-size="10.39" fill="#111" text-anchor="middle" textLength="10.31" lengthAdjust="spacingAndGlyphs">45</text>
<text x="262.7" y="403.3" font-size="10.39" fill="#111" text-anchor="middle" textLength="10.31" lengthAdjust="spacingAndGlyphs">45</text>
<text x="279.35" y="403.3" font-size="10.39" fill="#111" text-anchor="middle" textLength="10.31" lengthAdjust="spacingAndGlyphs">45</text>
<text x="296" y="403.3" font-size="10.39" fill="#111" text-anchor="middle" textLength="10.31" lengthAdjust="spacingAndGlyphs">45</text>
<text x="329.3" y="403.3" font-size="10.39" fill="#111" text-anchor="middle" textLength="10.31" lengthAdjust="spacingAndGlyphs">45</text>
<text x="345.95" y="403.3" font-size="10.39" fill="#111" text-anchor="middle" textLength="10.31" lengthAdjust="spacingAndGlyphs">45</text>
<text x="362.61" y="403.3" font-size="10.39" fill="#111" text-anchor="middle" textLength="10.31" lengthAdjust="spacingAndGlyphs">45</text>
<text x="379.26" y="403.3" font-size="10.39" fill="#111" text-anchor="middle" textLength="10.31" lengthAdjust="spacingAndGlyphs">45</text>
<text x="395.91" y="403.3" font-size="10.39" fill="#111" text-anchor="middle" textLength="10.31" lengthAdjust="spacingAndGlyphs">45</text>
<text x="412.56" y="403.3" font-size="10.39" fill="#111" text-anchor="middle" textLength="10.31" lengthAdjust="spacingAndGlyphs">45</text>
<text x="429.21" y="403.3" font-size="10.39" fill="#111" text-anchor="middle" textLength="10.31" lengthAdjust="spacingAndGlyphs">45</text>
<text x="462.52" y="403.3" font-size="10.39" fill="#111" text-anchor="middle" textLength="10.31" lengthAdjust="spacingAndGlyphs">45</text>
<text x="479.17" y="403.3" font-size="10.39" fill="#111" text-anchor="middle" textLength="10.31" lengthAdjust="spacingAndGlyphs">45</text>
<text x="495.82" y="403.3" font-size="10.39" fill="#111" text-anchor="middle" textLength="10.31" lengthAdjust="spacingAndGlyphs">45</text>
<text x="512.47" y="403.3" font-size="10.39" fill="#111" text-anchor="middle" textLength="10.31" lengthAdjust="spacingAndGlyphs">45</text>
<text x="529.12" y="403.3" font-size="10.39" fill="#111" text-anchor="middle" textLength="10.31" lengthAdjust="spacingAndGlyphs">45</text>
<text x="545.77" y="403.3" font-size="10.39" fill="#111" text-anchor="middle" textLength="10.31" lengthAdjust="spacingAndGlyphs">45</text>
<text x="562.43" y="403.3" font-size="10.39" fill="#111" text-anchor="middle" textLength="10.31" lengthAdjust="spacingAndGlyphs">45</text>
<text x="612.38" y="403.3" font-size="10.39" fill="#111" text-anchor="middle" textLength="10.31" lengthAdjust="spacingAndGlyphs">45</text>
<text x="629.03" y="403.3" font-size="10.39" fill="#111" text-anchor="middle" textLength="10.31" lengthAdjust="spacingAndGlyphs">45</text>
<text x="645.68" y="403.3" font-size="10.39" fill="#111" text-anchor="middle" textLength="10.31" lengthAdjust="spacingAndGlyphs">45</text>
<text x="662.34" y="403.3" font-size="10.39" fill="#111" text-anchor="middle" textLength="10.31" lengthAdjust="spacingAndGlyphs">45</text>
<text x="678.99" y="403.3" font-size="10.39" fill="#111" text-anchor="middle" textLength="10.31" lengthAdjust="spacingAndGlyphs">45</text>
<text x="795.55" y="403.3" font-size="10.39" fill="#111" text-anchor="middle" textLength="10.31" lengthAdjust="spacingAndGlyphs">45</text>
<text x="812.2" y="403.3" font-size="10.39" fill="#111" text-anchor="middle" textLength="10.31" lengthAdjust="spacingAndGlyphs">45</text>
<text x="928.76" y="403.3" font-size="10.39" fill="#111" text-anchor="middle" textLength="10.31" lengthAdjust="spacingAndGlyphs">45</text>
<text x="138.21" y="391.3" font-size="9.96" fill="#111" text-anchor="middle">0</text>
<text x="204.81" y="391.3" font-size="9.96" fill="#111" text-anchor="middle">0</text>
<text x="271.42" y="391.3" font-size="9.96" fill="#111" text-anchor="middle">0</text>
<text x="338.03" y="391.3" font-size="9.96" fill="#111" text-anchor="middle">0</text>
<text x="404.64" y="391.3" font-size="9.96" fill="#111" text-anchor="middle">0</text>
<text x="471.24" y="391.3" font-size="9.96" fill="#111" text-anchor="middle">0</text>
<text x="537.85" y="391.3" font-size="9.96" fill="#111" text-anchor="middle">0</text>
<text x="604.46" y="391.3" font-size="9.96" fill="#111" text-anchor="middle">0</text>
<text x="671.06" y="391.3" font-size="9.96" fill="#111" text-anchor="middle">0</text>
<text x="737.67" y="391.3" font-size="9.96" fill="#111" text-anchor="middle">0</text>
<text x="804.28" y="391.3" font-size="9.96" fill="#111" text-anchor="middle">1</text>
<text x="870.88" y="391.3" font-size="9.96" fill="#111" text-anchor="middle">0</text>
<text x="937.49" y="391.3" font-size="9.96" fill="#111" text-anchor="middle">0</text>
<text x="1004.1" y="391.3" font-size="9.96" fill="#111" text-anchor="middle">0</text>
<text x="61.3" y="424.3" font-size="13.25" fill="#4d70c8" textLength="39.36" lengthAdjust="spacingAndGlyphs">Regen</text>
<text x="61.3" y="439.6" font-size="13.25" fill="#78bcff" textLength="46.03" lengthAdjust="spacingAndGlyphs">Schnee</text>
<text x="1031" y="424.3" font-size="13.25" fill="#808080" text-anchor="end" textLength="90.14" lengthAdjust="spacingAndGlyphs">- Niederschlag</text>
<rect x="60.5" y="379.6" width="976.9" height="124.7" fill="none" stroke="#000" stroke-width="1.1"/>
<text x="71.6" y="515.9" font-size="10.92" fill="#111" text-anchor="middle" textLength="12.09" lengthAdjust="spacingAndGlyphs">18</text>
<text x="104.9" y="515.9" font-size="10.92" fill="#111" text-anchor="middle">0</text>
<text x="138.21" y="515.9" font-size="10.92" fill="#111" text-anchor="middle">6</text>
<text x="171.51" y="515.9" font-size="10.92" fill="#111" text-anchor="middle" textLength="12.09" lengthAdjust="spacingAndGlyphs">12</text>
<text x="204.81" y="515.9" font-size="10.92" fill="#111" text-anchor="middle" textLength="12.09" lengthAdjust="spacingAndGlyphs">18</text>
<text x="238.12" y="515.9" font-size="10.92" fill="#111" text-anchor="middle">0</text>
<text x="271.42" y="515.9" font-size="10.92" fill="#111" text-anchor="middle">6</text>
<text x="304.73" y="515.9" font-size="10.92" fill="#111" text-anchor="middle" textLength="12.09" lengthAdjust="spacingAndGlyphs">12</text>
<text x="338.03" y="515.9" font-size="10.92" fill="#111" text-anchor="middle" textLength="12.09" lengthAdjust="spacingAndGlyphs">18</text>
<text x="371.33" y="515.9" font-size="10.92" fill="#111" text-anchor="middle">0</text>
<text x="404.64" y="515.9" font-size="10.92" fill="#111" text-anchor="middle">6</text>
<text x="437.94" y="515.9" font-size="10.92" fill="#111" text-anchor="middle" textLength="12.09" lengthAdjust="spacingAndGlyphs">12</text>
<text x="471.24" y="515.9" font-size="10.92" fill="#111" text-anchor="middle" textLength="12.09" lengthAdjust="spacingAndGlyphs">18</text>
<text x="504.55" y="515.9" font-size="10.92" fill="#111" text-anchor="middle">0</text>
<text x="537.85" y="515.9" font-size="10.92" fill="#111" text-anchor="middle">6</text>
<text x="571.15" y="515.9" font-size="10.92" fill="#111" text-anchor="middle" textLength="12.09" lengthAdjust="spacingAndGlyphs">12</text>
<text x="604.46" y="515.9" font-size="10.92" fill="#111" text-anchor="middle" textLength="12.09" lengthAdjust="spacingAndGlyphs">18</text>
<text x="637.76" y="515.9" font-size="10.92" fill="#111" text-anchor="middle">0</text>
<text x="671.06" y="515.9" font-size="10.92" fill="#111" text-anchor="middle">6</text>
<text x="704.37" y="515.9" font-size="10.92" fill="#111" text-anchor="middle" textLength="12.09" lengthAdjust="spacingAndGlyphs">12</text>
<text x="737.67" y="515.9" font-size="10.92" fill="#111" text-anchor="middle" textLength="12.09" lengthAdjust="spacingAndGlyphs">18</text>
<text x="770.97" y="515.9" font-size="10.92" fill="#111" text-anchor="middle">0</text>
<text x="804.28" y="515.9" font-size="10.92" fill="#111" text-anchor="middle">6</text>
<text x="837.58" y="515.9" font-size="10.92" fill="#111" text-anchor="middle" textLength="12.09" lengthAdjust="spacingAndGlyphs">12</text>
<text x="870.88" y="515.9" font-size="10.92" fill="#111" text-anchor="middle" textLength="12.09" lengthAdjust="spacingAndGlyphs">18</text>
<text x="904.19" y="515.9" font-size="10.92" fill="#111" text-anchor="middle">0</text>
<text x="937.49" y="515.9" font-size="10.92" fill="#111" text-anchor="middle">6</text>
<text x="970.79" y="515.9" font-size="10.92" fill="#111" text-anchor="middle" textLength="12.09" lengthAdjust="spacingAndGlyphs">12</text>
<text x="1004.1" y="515.9" font-size="10.92" fill="#111" text-anchor="middle" textLength="12.09" lengthAdjust="spacingAndGlyphs">18</text>
<text x="1037.4" y="515.9" font-size="10.92" fill="#111" text-anchor="middle">0</text>
<text x="56.3" y="414.58" font-size="10.92" fill="#111" text-anchor="end">9</text>
<text x="56.3" y="445.75" font-size="10.92" fill="#111" text-anchor="end">6</text>
<text x="56.3" y="476.93" font-size="10.92" fill="#111" text-anchor="end">3</text>
<text x="56.3" y="508.1" font-size="10.92" fill="#111" text-anchor="end">0</text>
<text x="1041.6" y="383.4" font-size="10.92" fill="#111" textLength="18.13" lengthAdjust="spacingAndGlyphs">100</text>
<text x="1041.6" y="414.57" font-size="10.92" fill="#111" textLength="12.09" lengthAdjust="spacingAndGlyphs">75</text>
<text x="1041.6" y="445.75" font-size="10.92" fill="#111" textLength="12.09" lengthAdjust="spacingAndGlyphs">50</text>
<text x="1041.6" y="476.93" font-size="10.92" fill="#111" textLength="12.09" lengthAdjust="spacingAndGlyphs">25</text>
<text x="1041.6" y="508.1" font-size="10.92" fill="#111">0</text>
<text x="17.6" y="444.4" font-size="12.72" fill="#000" text-anchor="middle" textLength="77.73" lengthAdjust="spacingAndGlyphs" transform="rotate(-90 17.6 444.4)">Niederschlag</text>
<text x="31.6" y="443.6" font-size="12.72" fill="#000" text-anchor="middle" textLength="107.43" lengthAdjust="spacingAndGlyphs" transform="rotate(-90 31.6 443.6)">3h-Summen (mm)</text>
<text x="1062.3" y="445" font-size="12.72" fill="#000" text-anchor="middle" textLength="108.83" lengthAdjust="spacingAndGlyphs" transform="rotate(-90 1062.3 445)">Wahrscheinlichkeit</text>
<text x="1077" y="443.3" font-size="12.72" fill="#000" text-anchor="middle" textLength="114.45" lengthAdjust="spacingAndGlyphs" transform="rotate(-90 1077 443.3)">vergangene 6h (%)</text>
<line x1="71.5" y1="520.3" x2="71.5" y2="602" stroke="#b8b8b8" stroke-width="1"/>
<line x1="138.5" y1="520.3" x2="138.5" y2="602" stroke="#b8b8b8" stroke-width="1"/>
<line x1="171.5" y1="520.3" x2="171.5" y2="602" stroke="#b8b8b8" stroke-width="1"/>
<line x1="204.5" y1="520.3" x2="204.5" y2="602" stroke="#b8b8b8" stroke-width="1"/>
<line x1="271.5" y1="520.3" x2="271.5" y2="602" stroke="#b8b8b8" stroke-width="1"/>
<line x1="304.5" y1="520.3" x2="304.5" y2="602" stroke="#b8b8b8" stroke-width="1"/>
<line x1="338.5" y1="520.3" x2="338.5" y2="602" stroke="#b8b8b8" stroke-width="1"/>
<line x1="404.5" y1="520.3" x2="404.5" y2="602" stroke="#b8b8b8" stroke-width="1"/>
<line x1="437.5" y1="520.3" x2="437.5" y2="602" stroke="#b8b8b8" stroke-width="1"/>
<line x1="471.5" y1="520.3" x2="471.5" y2="602" stroke="#b8b8b8" stroke-width="1"/>
<line x1="537.5" y1="520.3" x2="537.5" y2="602" stroke="#b8b8b8" stroke-width="1"/>
<line x1="571.5" y1="520.3" x2="571.5" y2="602" stroke="#b8b8b8" stroke-width="1"/>
<line x1="604.5" y1="520.3" x2="604.5" y2="602" stroke="#b8b8b8" stroke-width="1"/>
<line x1="671.5" y1="520.3" x2="671.5" y2="602" stroke="#b8b8b8" stroke-width="1"/>
<line x1="704.5" y1="520.3" x2="704.5" y2="602" stroke="#b8b8b8" stroke-width="1"/>
<line x1="737.5" y1="520.3" x2="737.5" y2="602" stroke="#b8b8b8" stroke-width="1"/>
<line x1="804.5" y1="520.3" x2="804.5" y2="602" stroke="#b8b8b8" stroke-width="1"/>
<line x1="837.5" y1="520.3" x2="837.5" y2="602" stroke="#b8b8b8" stroke-width="1"/>
<line x1="870.5" y1="520.3" x2="870.5" y2="602" stroke="#b8b8b8" stroke-width="1"/>
<line x1="937.5" y1="520.3" x2="937.5" y2="602" stroke="#b8b8b8" stroke-width="1"/>
<line x1="970.5" y1="520.3" x2="970.5" y2="602" stroke="#b8b8b8" stroke-width="1"/>
<line x1="1004.5" y1="520.3" x2="1004.5" y2="602" stroke="#b8b8b8" stroke-width="1"/>
<path d="M60.5 602 L60.5 599.96 L66.05 600.37 L69.94 602" stroke="#ff8c1a" stroke-width="1.3" fill="#ffa000"/>
<path d="M142.65 602 L152.64 593.83 L163.19 583.21 L168.74 585.66 L174.29 580.1 L179.84 580.1 L185.39 588.11 L190.94 595.46 L195.93 602" stroke="#ff8c1a" stroke-width="1.3" fill="#ffa000"/>
<path d="M274.75 602 L279.75 595.46 L284.74 596.28 L290.85 591.38 L296.4 586.89 L302.5 586.89 L307.5 588.44 L313.05 586.89 L318.6 593.01 L324.15 599.55 L327.48 602" stroke="#ff8c1a" stroke-width="1.3" fill="#ffa000"/>
<path d="M407.97 602 L412.96 592.2 L418.51 580.76 L424.06 569.57 L430.17 567.85 L435.16 567.69 L440.71 565.24 L446.26 566.87 L451.82 581.9 L457.37 590.15 L462.92 602" stroke="#ff8c1a" stroke-width="1.3" fill="#ffa000"/>
<path d="M541.18 602 L546.73 587.7 L552.28 577.49 L557.83 570.55 L563.38 566.3 L567.82 567.69 L573.93 565.24 L579.48 568.09 L585.03 580.1 L590.58 592.69 L596.13 602" stroke="#ff8c1a" stroke-width="1.3" fill="#ffa000"/>
<path d="M674.39 602 L679.94 596.44 L684.94 592.69 L690.49 586.89 L696.04 588.44 L701.59 590.97 L707.14 592.44 L712.69 596.44 L718.24 598.24 L726.01 602" stroke="#ff8c1a" stroke-width="1.3" fill="#ffa000"/>
<path d="M809.83 602 L817.04 599.55 L822.59 599.55 L829.25 590.89 L835.36 595.71 L840.35 596.61 L846.46 602" stroke="#ff8c1a" stroke-width="1.3" fill="#ffa000"/>
<path d="M964.13 602 L968.02 599.14 L973.01 597.91 L978.01 599.55 L982.45 602" stroke="#ff8c1a" stroke-width="1.3" fill="#ffa000"/>
<line x1="105.25" y1="520.3" x2="105.25" y2="602" stroke="#151515" stroke-width="1.6"/>
<line x1="238.47" y1="520.3" x2="238.47" y2="602" stroke="#151515" stroke-width="1.6"/>
<line x1="371.68" y1="520.3" x2="371.68" y2="602" stroke="#151515" stroke-width="1.6"/>
<line x1="504.9" y1="520.3" x2="504.9" y2="602" stroke="#151515" stroke-width="1.6"/>
<line x1="638.11" y1="520.3" x2="638.11" y2="602" stroke="#151515" stroke-width="1.6"/>
<line x1="771.32" y1="520.3" x2="771.32" y2="602" stroke="#151515" stroke-width="1.6"/>
<line x1="904.54" y1="520.3" x2="904.54" y2="602" stroke="#151515" stroke-width="1.6"/>
<line x1="70.49" y1="601" x2="1037.4" y2="601" stroke="#0000cd" stroke-width="2"/>
<text x="66.3" y="536.5" font-size="16.96" fill="#000">Σ</text>
<text x="170.91" y="533.7" font-size="13.25" fill="#000" text-anchor="middle" textLength="31.78" lengthAdjust="spacingAndGlyphs">2.5 h</text>
<text x="220.63" y="533" font-size="11.34" fill="#999999" text-anchor="middle" textLength="27.18" lengthAdjust="spacingAndGlyphs">31 %</text>
<text x="304.12" y="533.7" font-size="13.25" fill="#000" text-anchor="middle" textLength="31.78" lengthAdjust="spacingAndGlyphs">1.0 h</text>
<text x="353.85" y="533" font-size="11.34" fill="#999999" text-anchor="middle" textLength="27.18" lengthAdjust="spacingAndGlyphs">13 %</text>
<text x="437.34" y="533.7" font-size="13.25" fill="#000" text-anchor="middle" textLength="31.78" lengthAdjust="spacingAndGlyphs">3.6 h</text>
<text x="487.06" y="533" font-size="11.34" fill="#999999" text-anchor="middle" textLength="27.18" lengthAdjust="spacingAndGlyphs">43 %</text>
<text x="570.55" y="533.7" font-size="13.25" fill="#000" text-anchor="middle" textLength="31.78" lengthAdjust="spacingAndGlyphs">2.7 h</text>
<text x="620.27" y="533" font-size="11.34" fill="#999999" text-anchor="middle" textLength="27.18" lengthAdjust="spacingAndGlyphs">33 %</text>
<text x="703.77" y="533.7" font-size="13.25" fill="#000" text-anchor="middle" textLength="31.78" lengthAdjust="spacingAndGlyphs">1.0 h</text>
<text x="753.49" y="533" font-size="11.34" fill="#999999" text-anchor="middle" textLength="27.18" lengthAdjust="spacingAndGlyphs">12 %</text>
<text x="836.98" y="533.7" font-size="13.25" fill="#000" text-anchor="middle" textLength="31.78" lengthAdjust="spacingAndGlyphs">0.7 h</text>
<text x="886.7" y="533" font-size="11.34" fill="#999999" text-anchor="middle" textLength="20.38" lengthAdjust="spacingAndGlyphs">9 %</text>
<text x="970.19" y="533.7" font-size="13.25" fill="#000" text-anchor="middle" textLength="31.78" lengthAdjust="spacingAndGlyphs">0.4 h</text>
<text x="1019.92" y="533" font-size="11.34" fill="#999999" text-anchor="middle" textLength="20.38" lengthAdjust="spacingAndGlyphs">5 %</text>
<rect x="60.5" y="520.3" width="976.9" height="81.7" fill="none" stroke="#000" stroke-width="1.1"/>
<text x="71.6" y="613.6" font-size="10.92" fill="#111" text-anchor="middle" textLength="12.09" lengthAdjust="spacingAndGlyphs">18</text>
<text x="104.9" y="613.6" font-size="10.92" fill="#111" text-anchor="middle">0</text>
<text x="138.21" y="613.6" font-size="10.92" fill="#111" text-anchor="middle">6</text>
<text x="171.51" y="613.6" font-size="10.92" fill="#111" text-anchor="middle" textLength="12.09" lengthAdjust="spacingAndGlyphs">12</text>
<text x="204.81" y="613.6" font-size="10.92" fill="#111" text-anchor="middle" textLength="12.09" lengthAdjust="spacingAndGlyphs">18</text>
<text x="238.12" y="613.6" font-size="10.92" fill="#111" text-anchor="middle">0</text>
<text x="271.42" y="613.6" font-size="10.92" fill="#111" text-anchor="middle">6</text>
<text x="304.73" y="613.6" font-size="10.92" fill="#111" text-anchor="middle" textLength="12.09" lengthAdjust="spacingAndGlyphs">12</text>
<text x="338.03" y="613.6" font-size="10.92" fill="#111" text-anchor="middle" textLength="12.09" lengthAdjust="spacingAndGlyphs">18</text>
<text x="371.33" y="613.6" font-size="10.92" fill="#111" text-anchor="middle">0</text>
<text x="404.64" y="613.6" font-size="10.92" fill="#111" text-anchor="middle">6</text>
<text x="437.94" y="613.6" font-size="10.92" fill="#111" text-anchor="middle" textLength="12.09" lengthAdjust="spacingAndGlyphs">12</text>
<text x="471.24" y="613.6" font-size="10.92" fill="#111" text-anchor="middle" textLength="12.09" lengthAdjust="spacingAndGlyphs">18</text>
<text x="504.55" y="613.6" font-size="10.92" fill="#111" text-anchor="middle">0</text>
<text x="537.85" y="613.6" font-size="10.92" fill="#111" text-anchor="middle">6</text>
<text x="571.15" y="613.6" font-size="10.92" fill="#111" text-anchor="middle" textLength="12.09" lengthAdjust="spacingAndGlyphs">12</text>
<text x="604.46" y="613.6" font-size="10.92" fill="#111" text-anchor="middle" textLength="12.09" lengthAdjust="spacingAndGlyphs">18</text>
<text x="637.76" y="613.6" font-size="10.92" fill="#111" text-anchor="middle">0</text>
<text x="671.06" y="613.6" font-size="10.92" fill="#111" text-anchor="middle">6</text>
<text x="704.37" y="613.6" font-size="10.92" fill="#111" text-anchor="middle" textLength="12.09" lengthAdjust="spacingAndGlyphs">12</text>
<text x="737.67" y="613.6" font-size="10.92" fill="#111" text-anchor="middle" textLength="12.09" lengthAdjust="spacingAndGlyphs">18</text>
<text x="770.97" y="613.6" font-size="10.92" fill="#111" text-anchor="middle">0</text>
<text x="804.28" y="613.6" font-size="10.92" fill="#111" text-anchor="middle">6</text>
<text x="837.58" y="613.6" font-size="10.92" fill="#111" text-anchor="middle" textLength="12.09" lengthAdjust="spacingAndGlyphs">12</text>
<text x="870.88" y="613.6" font-size="10.92" fill="#111" text-anchor="middle" textLength="12.09" lengthAdjust="spacingAndGlyphs">18</text>
<text x="904.19" y="613.6" font-size="10.92" fill="#111" text-anchor="middle">0</text>
<text x="937.49" y="613.6" font-size="10.92" fill="#111" text-anchor="middle">6</text>
<text x="970.79" y="613.6" font-size="10.92" fill="#111" text-anchor="middle" textLength="12.09" lengthAdjust="spacingAndGlyphs">12</text>
<text x="1004.1" y="613.6" font-size="10.92" fill="#111" text-anchor="middle" textLength="12.09" lengthAdjust="spacingAndGlyphs">18</text>
<text x="1037.4" y="613.6" font-size="10.92" fill="#111" text-anchor="middle">0</text>
<text x="56.3" y="524.1" font-size="10.92" fill="#111" text-anchor="end" textLength="18.13" lengthAdjust="spacingAndGlyphs">100</text>
<text x="56.3" y="544.52" font-size="10.92" fill="#111" text-anchor="end" textLength="12.09" lengthAdjust="spacingAndGlyphs">75</text>
<text x="56.3" y="564.95" font-size="10.92" fill="#111" text-anchor="end" textLength="12.09" lengthAdjust="spacingAndGlyphs">50</text>
<text x="56.3" y="585.38" font-size="10.92" fill="#111" text-anchor="end" textLength="12.09" lengthAdjust="spacingAndGlyphs">25</text>
<text x="56.3" y="605.8" font-size="10.92" fill="#111" text-anchor="end">0</text>
<line x1="1037.4" y1="520.3" x2="1041" y2="520.3" stroke="#000" stroke-width="1"/>
<text x="1044.3" y="524.1" font-size="10.92" fill="#111">4</text>
<line x1="1037.4" y1="540.72" x2="1041" y2="540.72" stroke="#000" stroke-width="1"/>
<text x="1044.3" y="544.52" font-size="10.92" fill="#111">3</text>
<line x1="1037.4" y1="561.15" x2="1041" y2="561.15" stroke="#000" stroke-width="1"/>
<text x="1044.3" y="564.95" font-size="10.92" fill="#111">2</text>
<line x1="1037.4" y1="581.58" x2="1041" y2="581.58" stroke="#000" stroke-width="1"/>
<text x="1044.3" y="585.38" font-size="10.92" fill="#111">1</text>
<line x1="1037.4" y1="602" x2="1041" y2="602" stroke="#000" stroke-width="1"/>
<text x="1044.3" y="605.8" font-size="10.92" fill="#111">0</text>
<text x="17.6" y="561.5" font-size="12.72" fill="#000" text-anchor="middle" textLength="97.75" lengthAdjust="spacingAndGlyphs" transform="rotate(-90 17.6 561.5)">relative Sonnen-</text>
<text x="32.3" y="562.5" font-size="12.72" fill="#000" text-anchor="middle" textLength="94.16" lengthAdjust="spacingAndGlyphs" transform="rotate(-90 32.3 562.5)">scheindauer (%)</text>
<text x="1062.8" y="564" font-size="12.72" fill="#0000ee" text-anchor="middle" textLength="77.73" lengthAdjust="spacingAndGlyphs" transform="rotate(-90 1062.8 564)">Niederschlag</text>
<text x="1077.4" y="563" font-size="12.72" fill="#0000ee" text-anchor="middle" textLength="93.37" lengthAdjust="spacingAndGlyphs" transform="rotate(-90 1077.4 563)">summiert (mm)</text>
<g shape-rendering="crispEdges">
<rect x="60.5" y="618.2" width="5.84" height="16.6" fill="#eeeeee"/>
<rect x="66.04" y="618.2" width="5.84" height="16.6" fill="#b3d9fb"/>
<rect x="71.59" y="618.2" width="5.84" height="16.6" fill="#eeeeee"/>
<rect x="77.13" y="618.2" width="5.84" height="16.6" fill="#d9d9d9"/>
<rect x="82.67" y="618.2" width="5.84" height="16.6" fill="#a2a2a2"/>
<rect x="88.22" y="618.2" width="33.56" height="16.6" fill="#858585"/>
<rect x="121.47" y="618.2" width="5.84" height="16.6" fill="#c4c4c4"/>
<rect x="127.02" y="618.2" width="5.84" height="16.6" fill="#eeeeee"/>
<rect x="132.56" y="618.2" width="11.39" height="16.6" fill="#dff1fb"/>
<rect x="143.64" y="618.2" width="11.39" height="16.6" fill="#d9d9d9"/>
<rect x="154.73" y="618.2" width="5.84" height="16.6" fill="#eeeeee"/>
<rect x="160.27" y="618.2" width="5.84" height="16.6" fill="#dff1fb"/>
<rect x="165.82" y="618.2" width="5.84" height="16.6" fill="#80bdf0"/>
<rect x="171.36" y="618.2" width="5.84" height="16.6" fill="#b3d9fb"/>
<rect x="176.9" y="618.2" width="11.39" height="16.6" fill="#dff1fb"/>
<rect x="187.99" y="618.2" width="11.39" height="16.6" fill="#eeeeee"/>
<rect x="199.08" y="618.2" width="11.39" height="16.6" fill="#c4c4c4"/>
<rect x="210.16" y="618.2" width="5.84" height="16.6" fill="#a2a2a2"/>
<rect x="215.7" y="618.2" width="5.84" height="16.6" fill="#858585"/>
<rect x="221.25" y="618.2" width="5.84" height="16.6" fill="#c4c4c4"/>
<rect x="226.79" y="618.2" width="5.84" height="16.6" fill="#eeeeee"/>
<rect x="232.33" y="618.2" width="5.84" height="16.6" fill="#b3d9fb"/>
<rect x="237.88" y="618.2" width="5.84" height="16.6" fill="#dff1fb"/>
<rect x="243.42" y="618.2" width="5.84" height="16.6" fill="#eeeeee"/>
<rect x="248.96" y="618.2" width="5.84" height="16.6" fill="#c4c4c4"/>
<rect x="254.5" y="618.2" width="5.84" height="16.6" fill="#a2a2a2"/>
<rect x="260.05" y="618.2" width="11.39" height="16.6" fill="#858585"/>
<rect x="271.13" y="618.2" width="5.84" height="16.6" fill="#c4c4c4"/>
<rect x="276.68" y="618.2" width="5.84" height="16.6" fill="#eeeeee"/>
<rect x="282.22" y="618.2" width="11.39" height="16.6" fill="#b3d9fb"/>
<rect x="293.31" y="618.2" width="77.9" height="16.6" fill="#80bdf0"/>
<rect x="370.91" y="618.2" width="5.84" height="16.6" fill="#dff1fb"/>
<rect x="376.45" y="618.2" width="5.84" height="16.6" fill="#eeeeee"/>
<rect x="381.99" y="618.2" width="5.84" height="16.6" fill="#d9d9d9"/>
<rect x="387.54" y="618.2" width="5.84" height="16.6" fill="#dff1fb"/>
<rect x="393.08" y="618.2" width="5.84" height="16.6" fill="#b3d9fb"/>
<rect x="398.62" y="618.2" width="5.84" height="16.6" fill="#80bdf0"/>
<rect x="404.17" y="618.2" width="22.47" height="16.6" fill="#b3d9fb"/>
<rect x="426.34" y="618.2" width="5.84" height="16.6" fill="#dff1fb"/>
<rect x="431.88" y="618.2" width="5.84" height="16.6" fill="#b3d9fb"/>
<rect x="437.42" y="618.2" width="33.56" height="16.6" fill="#dff1fb"/>
<rect x="470.68" y="618.2" width="5.84" height="16.6" fill="#b3d9fb"/>
<rect x="476.23" y="618.2" width="22.47" height="16.6" fill="#dff1fb"/>
<rect x="498.4" y="618.2" width="116.7" height="16.6" fill="#b3d9fb"/>
<rect x="614.8" y="618.2" width="44.64" height="16.6" fill="#80bdf0"/>
<rect x="659.14" y="618.2" width="5.84" height="16.6" fill="#b3d9fb"/>
<rect x="664.69" y="618.2" width="5.84" height="16.6" fill="#dff1fb"/>
<rect x="670.23" y="618.2" width="5.84" height="16.6" fill="#d9d9d9"/>
<rect x="675.77" y="618.2" width="5.84" height="16.6" fill="#a2a2a2"/>
<rect x="681.32" y="618.2" width="5.84" height="16.6" fill="#6e6e6e"/>
<rect x="686.86" y="618.2" width="5.84" height="16.6" fill="#c4c4c4"/>
<rect x="692.4" y="618.2" width="5.84" height="16.6" fill="#eeeeee"/>
<rect x="697.95" y="618.2" width="5.84" height="16.6" fill="#b3d9fb"/>
<rect x="703.49" y="618.2" width="116.7" height="16.6" fill="#80bdf0"/>
<rect x="819.89" y="618.2" width="5.84" height="16.6" fill="#b3d9fb"/>
<rect x="825.43" y="618.2" width="11.39" height="16.6" fill="#dff1fb"/>
<rect x="836.52" y="618.2" width="5.84" height="16.6" fill="#d9d9d9"/>
<rect x="842.06" y="618.2" width="5.84" height="16.6" fill="#a2a2a2"/>
<rect x="847.61" y="618.2" width="77.9" height="16.6" fill="#6e6e6e"/>
<rect x="925.21" y="618.2" width="16.93" height="16.6" fill="#858585"/>
<rect x="941.84" y="618.2" width="11.39" height="16.6" fill="#6e6e6e"/>
<rect x="952.92" y="618.2" width="5.84" height="16.6" fill="#858585"/>
<rect x="958.47" y="618.2" width="16.93" height="16.6" fill="#a2a2a2"/>
<rect x="975.1" y="618.2" width="5.84" height="16.6" fill="#858585"/>
<rect x="980.64" y="618.2" width="22.47" height="16.6" fill="#6e6e6e"/>
<rect x="1002.81" y="618.2" width="22.47" height="16.6" fill="#eeeeee"/>
<rect x="1024.98" y="618.2" width="12.72" height="16.6" fill="#d9d9d9"/>
<rect x="60.5" y="634.6" width="5.84" height="16.6" fill="#80bdf0"/>
<rect x="66.04" y="634.6" width="28.02" height="16.6" fill="#b3d9fb"/>
<rect x="93.76" y="634.6" width="94.53" height="16.6" fill="#80bdf0"/>
<rect x="187.99" y="634.6" width="5.84" height="16.6" fill="#b3d9fb"/>
<rect x="193.53" y="634.6" width="11.39" height="16.6" fill="#dff1fb"/>
<rect x="204.62" y="634.6" width="28.02" height="16.6" fill="#eeeeee"/>
<rect x="232.33" y="634.6" width="39.1" height="16.6" fill="#d9d9d9"/>
<rect x="271.13" y="634.6" width="33.56" height="16.6" fill="#c4c4c4"/>
<rect x="304.39" y="634.6" width="22.47" height="16.6" fill="#d9d9d9"/>
<rect x="326.56" y="634.6" width="11.39" height="16.6" fill="#eeeeee"/>
<rect x="337.65" y="634.6" width="5.84" height="16.6" fill="#dff1fb"/>
<rect x="343.19" y="634.6" width="11.39" height="16.6" fill="#b3d9fb"/>
<rect x="354.28" y="634.6" width="72.36" height="16.6" fill="#80bdf0"/>
<rect x="426.34" y="634.6" width="61.27" height="16.6" fill="#b3d9fb"/>
<rect x="487.31" y="634.6" width="16.93" height="16.6" fill="#80bdf0"/>
<rect x="503.94" y="634.6" width="11.39" height="16.6" fill="#b3d9fb"/>
<rect x="515.03" y="634.6" width="5.84" height="16.6" fill="#80bdf0"/>
<rect x="520.57" y="634.6" width="28.02" height="16.6" fill="#b3d9fb"/>
<rect x="548.28" y="634.6" width="16.93" height="16.6" fill="#dff1fb"/>
<rect x="564.91" y="634.6" width="11.39" height="16.6" fill="#b3d9fb"/>
<rect x="576" y="634.6" width="16.93" height="16.6" fill="#dff1fb"/>
<rect x="592.63" y="634.6" width="33.56" height="16.6" fill="#eeeeee"/>
<rect x="625.89" y="634.6" width="16.93" height="16.6" fill="#d9d9d9"/>
<rect x="642.51" y="634.6" width="16.93" height="16.6" fill="#c4c4c4"/>
<rect x="659.14" y="634.6" width="28.02" height="16.6" fill="#a2a2a2"/>
<rect x="686.86" y="634.6" width="5.84" height="16.6" fill="#c4c4c4"/>
<rect x="692.4" y="634.6" width="22.47" height="16.6" fill="#d9d9d9"/>
<rect x="714.57" y="634.6" width="16.93" height="16.6" fill="#c4c4c4"/>
<rect x="731.2" y="634.6" width="16.93" height="16.6" fill="#a2a2a2"/>
<rect x="747.83" y="634.6" width="5.84" height="16.6" fill="#858585"/>
<rect x="753.38" y="634.6" width="61.27" height="16.6" fill="#a2a2a2"/>
<rect x="814.35" y="634.6" width="22.47" height="16.6" fill="#c4c4c4"/>
<rect x="836.52" y="634.6" width="11.39" height="16.6" fill="#a2a2a2"/>
<rect x="847.61" y="634.6" width="127.79" height="16.6" fill="#858585"/>
<rect x="975.1" y="634.6" width="11.39" height="16.6" fill="#a2a2a2"/>
<rect x="986.18" y="634.6" width="16.93" height="16.6" fill="#858585"/>
<rect x="1002.81" y="634.6" width="5.84" height="16.6" fill="#d9d9d9"/>
<rect x="1008.35" y="634.6" width="29.35" height="16.6" fill="#c4c4c4"/>
<rect x="60.5" y="651" width="11.39" height="14.6" fill="#c4c4c4"/>
<rect x="71.59" y="651" width="39.1" height="14.6" fill="#a2a2a2"/>
<rect x="110.39" y="651" width="28.02" height="14.6" fill="#858585"/>
<rect x="138.1" y="651" width="33.56" height="14.6" fill="#a2a2a2"/>
<rect x="171.36" y="651" width="22.47" height="14.6" fill="#c4c4c4"/>
<rect x="193.53" y="651" width="22.47" height="14.6" fill="#d9d9d9"/>
<rect x="215.7" y="651" width="5.84" height="14.6" fill="#c4c4c4"/>
<rect x="221.25" y="651" width="44.64" height="14.6" fill="#d9d9d9"/>
<rect x="265.59" y="651" width="5.84" height="14.6" fill="#c4c4c4"/>
<rect x="271.13" y="651" width="28.02" height="14.6" fill="#d9d9d9"/>
<rect x="298.85" y="651" width="39.1" height="14.6" fill="#c4c4c4"/>
<rect x="337.65" y="651" width="55.73" height="14.6" fill="#a2a2a2"/>
<rect x="393.08" y="651" width="33.56" height="14.6" fill="#c4c4c4"/>
<rect x="426.34" y="651" width="16.93" height="14.6" fill="#d9d9d9"/>
<rect x="442.97" y="651" width="88.99" height="14.6" fill="#eeeeee"/>
<rect x="531.65" y="651" width="50.19" height="14.6" fill="#d9d9d9"/>
<rect x="581.54" y="651" width="5.84" height="14.6" fill="#eeeeee"/>
<rect x="587.09" y="651" width="5.84" height="14.6" fill="#d9d9d9"/>
<rect x="592.63" y="651" width="5.84" height="14.6" fill="#eeeeee"/>
<rect x="598.17" y="651" width="28.01" height="14.6" fill="#d9d9d9"/>
<rect x="625.89" y="651" width="39.1" height="14.6" fill="#c4c4c4"/>
<rect x="664.69" y="651" width="5.84" height="14.6" fill="#a2a2a2"/>
<rect x="670.23" y="651" width="61.27" height="14.6" fill="#c4c4c4"/>
<rect x="731.2" y="651" width="306.5" height="14.6" fill="#a2a2a2"/>
</g>
<text x="71.6" y="628.9" font-size="10.81" fill="#3a3a3a" text-anchor="middle">1</text>
<text x="88.25" y="628.9" font-size="10.81" fill="#3a3a3a" text-anchor="middle">6</text>
<text x="104.9" y="628.9" font-size="10.81" fill="#3a3a3a" text-anchor="middle">7</text>
<text x="121.56" y="628.9" font-size="10.81" fill="#3a3a3a" text-anchor="middle">7</text>
<text x="138.21" y="628.9" font-size="10.81" fill="#3a3a3a" text-anchor="middle">2</text>
<text x="154.86" y="628.9" font-size="10.81" fill="#3a3a3a" text-anchor="middle">4</text>
<text x="171.51" y="628.9" font-size="10.81" fill="#3a3a3a" text-anchor="middle">0</text>
<text x="188.16" y="628.9" font-size="10.81" fill="#3a3a3a" text-anchor="middle">2</text>
<text x="204.81" y="628.9" font-size="10.81" fill="#3a3a3a" text-anchor="middle">5</text>
<text x="221.47" y="628.9" font-size="10.81" fill="#3a3a3a" text-anchor="middle">7</text>
<text x="238.12" y="628.9" font-size="10.81" fill="#3a3a3a" text-anchor="middle">1</text>
<text x="254.77" y="628.9" font-size="10.81" fill="#3a3a3a" text-anchor="middle">5</text>
<text x="271.42" y="628.9" font-size="10.81" fill="#3a3a3a" text-anchor="middle">7</text>
<text x="288.07" y="628.9" font-size="10.81" fill="#3a3a3a" text-anchor="middle">1</text>
<text x="304.73" y="628.9" font-size="10.81" fill="#3a3a3a" text-anchor="middle">0</text>
<text x="321.38" y="628.9" font-size="10.81" fill="#3a3a3a" text-anchor="middle">0</text>
<text x="338.03" y="628.9" font-size="10.81" fill="#3a3a3a" text-anchor="middle">0</text>
<text x="354.68" y="628.9" font-size="10.81" fill="#3a3a3a" text-anchor="middle">0</text>
<text x="371.33" y="628.9" font-size="10.81" fill="#3a3a3a" text-anchor="middle">0</text>
<text x="387.98" y="628.9" font-size="10.81" fill="#3a3a3a" text-anchor="middle">4</text>
<text x="404.64" y="628.9" font-size="10.81" fill="#3a3a3a" text-anchor="middle">0</text>
<text x="421.29" y="628.9" font-size="10.81" fill="#3a3a3a" text-anchor="middle">1</text>
<text x="437.94" y="628.9" font-size="10.81" fill="#3a3a3a" text-anchor="middle">1</text>
<text x="454.59" y="628.9" font-size="10.81" fill="#3a3a3a" text-anchor="middle">2</text>
<text x="471.24" y="628.9" font-size="10.81" fill="#3a3a3a" text-anchor="middle">2</text>
<text x="487.89" y="628.9" font-size="10.81" fill="#3a3a3a" text-anchor="middle">2</text>
<text x="504.55" y="628.9" font-size="10.81" fill="#3a3a3a" text-anchor="middle">1</text>
<text x="521.2" y="628.9" font-size="10.81" fill="#3a3a3a" text-anchor="middle">1</text>
<text x="537.85" y="628.9" font-size="10.81" fill="#3a3a3a" text-anchor="middle">1</text>
<text x="554.5" y="628.9" font-size="10.81" fill="#3a3a3a" text-anchor="middle">1</text>
<text x="571.15" y="628.9" font-size="10.81" fill="#3a3a3a" text-anchor="middle">1</text>
<text x="587.8" y="628.9" font-size="10.81" fill="#3a3a3a" text-anchor="middle">1</text>
<text x="604.46" y="628.9" font-size="10.81" fill="#3a3a3a" text-anchor="middle">1</text>
<text x="621.11" y="628.9" font-size="10.81" fill="#3a3a3a" text-anchor="middle">0</text>
<text x="637.76" y="628.9" font-size="10.81" fill="#3a3a3a" text-anchor="middle">0</text>
<text x="654.41" y="628.9" font-size="10.81" fill="#3a3a3a" text-anchor="middle">0</text>
<text x="671.06" y="628.9" font-size="10.81" fill="#3a3a3a" text-anchor="middle">2</text>
<text x="687.71" y="628.9" font-size="10.81" fill="#3a3a3a" text-anchor="middle">8</text>
<text x="704.37" y="628.9" font-size="10.81" fill="#3a3a3a" text-anchor="middle">1</text>
<text x="721.02" y="628.9" font-size="10.81" fill="#3a3a3a" text-anchor="middle">0</text>
<text x="737.67" y="628.9" font-size="10.81" fill="#3a3a3a" text-anchor="middle">0</text>
<text x="754.32" y="628.9" font-size="10.81" fill="#3a3a3a" text-anchor="middle">0</text>
<text x="770.97" y="628.9" font-size="10.81" fill="#3a3a3a" text-anchor="middle">0</text>
<text x="787.62" y="628.9" font-size="10.81" fill="#3a3a3a" text-anchor="middle">0</text>
<text x="804.28" y="628.9" font-size="10.81" fill="#3a3a3a" text-anchor="middle">0</text>
<text x="820.93" y="628.9" font-size="10.81" fill="#3a3a3a" text-anchor="middle">0</text>
<text x="837.58" y="628.9" font-size="10.81" fill="#3a3a3a" text-anchor="middle">2</text>
<text x="854.23" y="628.9" font-size="10.81" fill="#3a3a3a" text-anchor="middle">8</text>
<text x="870.88" y="628.9" font-size="10.81" fill="#3a3a3a" text-anchor="middle">8</text>
<text x="887.53" y="628.9" font-size="10.81" fill="#3a3a3a" text-anchor="middle">8</text>
<text x="904.19" y="628.9" font-size="10.81" fill="#3a3a3a" text-anchor="middle">8</text>
<text x="920.84" y="628.9" font-size="10.81" fill="#3a3a3a" text-anchor="middle">8</text>
<text x="937.49" y="628.9" font-size="10.81" fill="#3a3a3a" text-anchor="middle">7</text>
<text x="954.14" y="628.9" font-size="10.81" fill="#3a3a3a" text-anchor="middle">8</text>
<text x="970.79" y="628.9" font-size="10.81" fill="#3a3a3a" text-anchor="middle">6</text>
<text x="987.44" y="628.9" font-size="10.81" fill="#3a3a3a" text-anchor="middle">8</text>
<text x="1004.1" y="628.9" font-size="10.81" fill="#3a3a3a" text-anchor="middle">8</text>
<text x="1020.75" y="628.9" font-size="10.81" fill="#3a3a3a" text-anchor="middle">3</text>
<text x="71.6" y="645.2" font-size="10.81" fill="#3a3a3a" text-anchor="middle">1</text>
<text x="88.25" y="645.2" font-size="10.81" fill="#3a3a3a" text-anchor="middle">1</text>
<text x="104.9" y="645.2" font-size="10.81" fill="#3a3a3a" text-anchor="middle">0</text>
<text x="121.56" y="645.2" font-size="10.81" fill="#3a3a3a" text-anchor="middle">0</text>
<text x="138.21" y="645.2" font-size="10.81" fill="#3a3a3a" text-anchor="middle">0</text>
<text x="154.86" y="645.2" font-size="10.81" fill="#3a3a3a" text-anchor="middle">0</text>
<text x="171.51" y="645.2" font-size="10.81" fill="#3a3a3a" text-anchor="middle">0</text>
<text x="188.16" y="645.2" font-size="10.81" fill="#3a3a3a" text-anchor="middle">0</text>
<text x="204.81" y="645.2" font-size="10.81" fill="#3a3a3a" text-anchor="middle">2</text>
<text x="221.47" y="645.2" font-size="10.81" fill="#3a3a3a" text-anchor="middle">3</text>
<text x="238.12" y="645.2" font-size="10.81" fill="#3a3a3a" text-anchor="middle">4</text>
<text x="254.77" y="645.2" font-size="10.81" fill="#3a3a3a" text-anchor="middle">4</text>
<text x="271.42" y="645.2" font-size="10.81" fill="#3a3a3a" text-anchor="middle">4</text>
<text x="288.07" y="645.2" font-size="10.81" fill="#3a3a3a" text-anchor="middle">5</text>
<text x="304.73" y="645.2" font-size="10.81" fill="#3a3a3a" text-anchor="middle">5</text>
<text x="321.38" y="645.2" font-size="10.81" fill="#3a3a3a" text-anchor="middle">4</text>
<text x="338.03" y="645.2" font-size="10.81" fill="#3a3a3a" text-anchor="middle">3</text>
<text x="354.68" y="645.2" font-size="10.81" fill="#3a3a3a" text-anchor="middle">1</text>
<text x="371.33" y="645.2" font-size="10.81" fill="#3a3a3a" text-anchor="middle">0</text>
<text x="387.98" y="645.2" font-size="10.81" fill="#3a3a3a" text-anchor="middle">0</text>
<text x="404.64" y="645.2" font-size="10.81" fill="#3a3a3a" text-anchor="middle">0</text>
<text x="421.29" y="645.2" font-size="10.81" fill="#3a3a3a" text-anchor="middle">0</text>
<text x="437.94" y="645.2" font-size="10.81" fill="#3a3a3a" text-anchor="middle">1</text>
<text x="454.59" y="645.2" font-size="10.81" fill="#3a3a3a" text-anchor="middle">1</text>
<text x="471.24" y="645.2" font-size="10.81" fill="#3a3a3a" text-anchor="middle">1</text>
<text x="487.89" y="645.2" font-size="10.81" fill="#3a3a3a" text-anchor="middle">1</text>
<text x="504.55" y="645.2" font-size="10.81" fill="#3a3a3a" text-anchor="middle">0</text>
<text x="521.2" y="645.2" font-size="10.81" fill="#3a3a3a" text-anchor="middle">0</text>
<text x="537.85" y="645.2" font-size="10.81" fill="#3a3a3a" text-anchor="middle">1</text>
<text x="554.5" y="645.2" font-size="10.81" fill="#3a3a3a" text-anchor="middle">2</text>
<text x="571.15" y="645.2" font-size="10.81" fill="#3a3a3a" text-anchor="middle">1</text>
<text x="587.8" y="645.2" font-size="10.81" fill="#3a3a3a" text-anchor="middle">2</text>
<text x="604.46" y="645.2" font-size="10.81" fill="#3a3a3a" text-anchor="middle">3</text>
<text x="621.11" y="645.2" font-size="10.81" fill="#3a3a3a" text-anchor="middle">3</text>
<text x="637.76" y="645.2" font-size="10.81" fill="#3a3a3a" text-anchor="middle">4</text>
<text x="654.41" y="645.2" font-size="10.81" fill="#3a3a3a" text-anchor="middle">5</text>
<text x="671.06" y="645.2" font-size="10.81" fill="#3a3a3a" text-anchor="middle">6</text>
<text x="687.71" y="645.2" font-size="10.81" fill="#3a3a3a" text-anchor="middle">6</text>
<text x="704.37" y="645.2" font-size="10.81" fill="#3a3a3a" text-anchor="middle">4</text>
<text x="721.02" y="645.2" font-size="10.81" fill="#3a3a3a" text-anchor="middle">5</text>
<text x="737.67" y="645.2" font-size="10.81" fill="#3a3a3a" text-anchor="middle">6</text>
<text x="754.32" y="645.2" font-size="10.81" fill="#3a3a3a" text-anchor="middle">7</text>
<text x="770.97" y="645.2" font-size="10.81" fill="#3a3a3a" text-anchor="middle">6</text>
<text x="787.62" y="645.2" font-size="10.81" fill="#3a3a3a" text-anchor="middle">6</text>
<text x="804.28" y="645.2" font-size="10.81" fill="#3a3a3a" text-anchor="middle">6</text>
<text x="820.93" y="645.2" font-size="10.81" fill="#3a3a3a" text-anchor="middle">5</text>
<text x="837.58" y="645.2" font-size="10.81" fill="#3a3a3a" text-anchor="middle">5</text>
<text x="854.23" y="645.2" font-size="10.81" fill="#3a3a3a" text-anchor="middle">7</text>
<text x="870.88" y="645.2" font-size="10.81" fill="#3a3a3a" text-anchor="middle">7</text>
<text x="887.53" y="645.2" font-size="10.81" fill="#3a3a3a" text-anchor="middle">7</text>
<text x="904.19" y="645.2" font-size="10.81" fill="#3a3a3a" text-anchor="middle">7</text>
<text x="920.84" y="645.2" font-size="10.81" fill="#3a3a3a" text-anchor="middle">7</text>
<text x="937.49" y="645.2" font-size="10.81" fill="#3a3a3a" text-anchor="middle">7</text>
<text x="954.14" y="645.2" font-size="10.81" fill="#3a3a3a" text-anchor="middle">7</text>
<text x="970.79" y="645.2" font-size="10.81" fill="#3a3a3a" text-anchor="middle">7</text>
<text x="987.44" y="645.2" font-size="10.81" fill="#3a3a3a" text-anchor="middle">6</text>
<text x="1004.1" y="645.2" font-size="10.81" fill="#3a3a3a" text-anchor="middle">7</text>
<text x="1020.75" y="645.2" font-size="10.81" fill="#3a3a3a" text-anchor="middle">5</text>
<text x="71.6" y="661" font-size="10.81" fill="#3a3a3a" text-anchor="middle">5</text>
<text x="88.25" y="661" font-size="10.81" fill="#3a3a3a" text-anchor="middle">6</text>
<text x="104.9" y="661" font-size="10.81" fill="#3a3a3a" text-anchor="middle">6</text>
<text x="121.56" y="661" font-size="10.81" fill="#3a3a3a" text-anchor="middle">7</text>
<text x="138.21" y="661" font-size="10.81" fill="#3a3a3a" text-anchor="middle">7</text>
<text x="154.86" y="661" font-size="10.81" fill="#3a3a3a" text-anchor="middle">6</text>
<text x="171.51" y="661" font-size="10.81" fill="#3a3a3a" text-anchor="middle">6</text>
<text x="188.16" y="661" font-size="10.81" fill="#3a3a3a" text-anchor="middle">5</text>
<text x="204.81" y="661" font-size="10.81" fill="#3a3a3a" text-anchor="middle">4</text>
<text x="221.47" y="661" font-size="10.81" fill="#3a3a3a" text-anchor="middle">5</text>
<text x="238.12" y="661" font-size="10.81" fill="#3a3a3a" text-anchor="middle">4</text>
<text x="254.77" y="661" font-size="10.81" fill="#3a3a3a" text-anchor="middle">4</text>
<text x="271.42" y="661" font-size="10.81" fill="#3a3a3a" text-anchor="middle">5</text>
<text x="288.07" y="661" font-size="10.81" fill="#3a3a3a" text-anchor="middle">4</text>
<text x="304.73" y="661" font-size="10.81" fill="#3a3a3a" text-anchor="middle">5</text>
<text x="321.38" y="661" font-size="10.81" fill="#3a3a3a" text-anchor="middle">5</text>
<text x="338.03" y="661" font-size="10.81" fill="#3a3a3a" text-anchor="middle">5</text>
<text x="354.68" y="661" font-size="10.81" fill="#3a3a3a" text-anchor="middle">6</text>
<text x="371.33" y="661" font-size="10.81" fill="#3a3a3a" text-anchor="middle">6</text>
<text x="387.98" y="661" font-size="10.81" fill="#3a3a3a" text-anchor="middle">6</text>
<text x="404.64" y="661" font-size="10.81" fill="#3a3a3a" text-anchor="middle">5</text>
<text x="421.29" y="661" font-size="10.81" fill="#3a3a3a" text-anchor="middle">5</text>
<text x="437.94" y="661" font-size="10.81" fill="#3a3a3a" text-anchor="middle">4</text>
<text x="454.59" y="661" font-size="10.81" fill="#3a3a3a" text-anchor="middle">3</text>
<text x="471.24" y="661" font-size="10.81" fill="#3a3a3a" text-anchor="middle">3</text>
<text x="487.89" y="661" font-size="10.81" fill="#3a3a3a" text-anchor="middle">3</text>
<text x="504.55" y="661" font-size="10.81" fill="#3a3a3a" text-anchor="middle">3</text>
<text x="521.2" y="661" font-size="10.81" fill="#3a3a3a" text-anchor="middle">3</text>
<text x="537.85" y="661" font-size="10.81" fill="#3a3a3a" text-anchor="middle">4</text>
<text x="554.5" y="661" font-size="10.81" fill="#3a3a3a" text-anchor="middle">4</text>
<text x="571.15" y="661" font-size="10.81" fill="#3a3a3a" text-anchor="middle">4</text>
<text x="587.8" y="661" font-size="10.81" fill="#3a3a3a" text-anchor="middle">3</text>
<text x="604.46" y="661" font-size="10.81" fill="#3a3a3a" text-anchor="middle">4</text>
<text x="621.11" y="661" font-size="10.81" fill="#3a3a3a" text-anchor="middle">4</text>
<text x="637.76" y="661" font-size="10.81" fill="#3a3a3a" text-anchor="middle">5</text>
<text x="654.41" y="661" font-size="10.81" fill="#3a3a3a" text-anchor="middle">5</text>
<text x="671.06" y="661" font-size="10.81" fill="#3a3a3a" text-anchor="middle">6</text>
<text x="687.71" y="661" font-size="10.81" fill="#3a3a3a" text-anchor="middle">5</text>
<text x="704.37" y="661" font-size="10.81" fill="#3a3a3a" text-anchor="middle">5</text>
<text x="721.02" y="661" font-size="10.81" fill="#3a3a3a" text-anchor="middle">5</text>
<text x="737.67" y="661" font-size="10.81" fill="#3a3a3a" text-anchor="middle">6</text>
<text x="754.32" y="661" font-size="10.81" fill="#3a3a3a" text-anchor="middle">6</text>
<text x="770.97" y="661" font-size="10.81" fill="#3a3a3a" text-anchor="middle">6</text>
<text x="787.62" y="661" font-size="10.81" fill="#3a3a3a" text-anchor="middle">6</text>
<text x="804.28" y="661" font-size="10.81" fill="#3a3a3a" text-anchor="middle">6</text>
<text x="820.93" y="661" font-size="10.81" fill="#3a3a3a" text-anchor="middle">6</text>
<text x="837.58" y="661" font-size="10.81" fill="#3a3a3a" text-anchor="middle">6</text>
<text x="854.23" y="661" font-size="10.81" fill="#3a3a3a" text-anchor="middle">6</text>
<text x="870.88" y="661" font-size="10.81" fill="#3a3a3a" text-anchor="middle">6</text>
<text x="887.53" y="661" font-size="10.81" fill="#3a3a3a" text-anchor="middle">6</text>
<text x="904.19" y="661" font-size="10.81" fill="#3a3a3a" text-anchor="middle">6</text>
<text x="920.84" y="661" font-size="10.81" fill="#3a3a3a" text-anchor="middle">6</text>
<text x="937.49" y="661" font-size="10.81" fill="#3a3a3a" text-anchor="middle">6</text>
<text x="954.14" y="661" font-size="10.81" fill="#3a3a3a" text-anchor="middle">6</text>
<text x="970.79" y="661" font-size="10.81" fill="#3a3a3a" text-anchor="middle">6</text>
<text x="987.44" y="661" font-size="10.81" fill="#3a3a3a" text-anchor="middle">6</text>
<text x="1004.1" y="661" font-size="10.81" fill="#3a3a3a" text-anchor="middle">6</text>
<text x="1020.75" y="661" font-size="10.81" fill="#3a3a3a" text-anchor="middle">6</text>
<rect x="60.5" y="665.4" width="976.9" height="78" fill="#b3d9fb"/>
<path d="M60.5 743.4 L60.5 685.88 L68.83 685.88 L68.83 676.36 L79.93 676.36 L79.93 665.4 L137.1 665.4 L137.1 676.36 L169.85 676.36 L169.85 685.88 L195.93 685.88 L195.93 676.36 L213.14 676.36 L213.14 665.4 L230.9 665.4 L230.9 676.36 L251.99 676.36 L251.99 665.4 L280.86 665.4 L280.86 676.36 L330.54 676.36 L330.54 685.88 L373.89 685.88 L373.89 676.36 L397.86 676.36 L397.86 685.88 L407.74 685.88 L407.74 695.4 L474.68 695.4 L474.68 704.92 L529.3 704.92 L529.3 695.4 L596.13 695.4 L596.13 685.88 L634.15 685.88 L634.15 676.36 L668.01 676.36 L668.01 665.4 L702.7 665.4 L702.7 676.36 L740.06 676.36 L740.06 665.4 L812.6 665.4 L812.6 676.36 L833.81 676.36 L833.81 665.4 L1037.4 665.4 L1037.4 743.4 Z" stroke="none" stroke-width="1" fill="#999999"/>
<line x1="71.5" y1="665.4" x2="71.5" y2="743.4" stroke="#bdbdbd" stroke-width="1"/>
<line x1="138.5" y1="665.4" x2="138.5" y2="743.4" stroke="#bdbdbd" stroke-width="1"/>
<line x1="171.5" y1="665.4" x2="171.5" y2="743.4" stroke="#bdbdbd" stroke-width="1"/>
<line x1="204.5" y1="665.4" x2="204.5" y2="743.4" stroke="#bdbdbd" stroke-width="1"/>
<line x1="271.5" y1="665.4" x2="271.5" y2="743.4" stroke="#bdbdbd" stroke-width="1"/>
<line x1="304.5" y1="665.4" x2="304.5" y2="743.4" stroke="#bdbdbd" stroke-width="1"/>
<line x1="338.5" y1="665.4" x2="338.5" y2="743.4" stroke="#bdbdbd" stroke-width="1"/>
<line x1="404.5" y1="665.4" x2="404.5" y2="743.4" stroke="#bdbdbd" stroke-width="1"/>
<line x1="437.5" y1="665.4" x2="437.5" y2="743.4" stroke="#bdbdbd" stroke-width="1"/>
<line x1="471.5" y1="665.4" x2="471.5" y2="743.4" stroke="#bdbdbd" stroke-width="1"/>
<line x1="537.5" y1="665.4" x2="537.5" y2="743.4" stroke="#bdbdbd" stroke-width="1"/>
<line x1="571.5" y1="665.4" x2="571.5" y2="743.4" stroke="#bdbdbd" stroke-width="1"/>
<line x1="604.5" y1="665.4" x2="604.5" y2="743.4" stroke="#bdbdbd" stroke-width="1"/>
<line x1="671.5" y1="665.4" x2="671.5" y2="743.4" stroke="#bdbdbd" stroke-width="1"/>
<line x1="704.5" y1="665.4" x2="704.5" y2="743.4" stroke="#bdbdbd" stroke-width="1"/>
<line x1="737.5" y1="665.4" x2="737.5" y2="743.4" stroke="#bdbdbd" stroke-width="1"/>
<line x1="804.5" y1="665.4" x2="804.5" y2="743.4" stroke="#bdbdbd" stroke-width="1"/>
<line x1="837.5" y1="665.4" x2="837.5" y2="743.4" stroke="#bdbdbd" stroke-width="1"/>
<line x1="870.5" y1="665.4" x2="870.5" y2="743.4" stroke="#bdbdbd" stroke-width="1"/>
<line x1="937.5" y1="665.4" x2="937.5" y2="743.4" stroke="#bdbdbd" stroke-width="1"/>
<line x1="970.5" y1="665.4" x2="970.5" y2="743.4" stroke="#bdbdbd" stroke-width="1"/>
<line x1="1004.5" y1="665.4" x2="1004.5" y2="743.4" stroke="#bdbdbd" stroke-width="1"/>
<line x1="60.5" y1="733.5" x2="1037.4" y2="733.5" stroke="#bdbdbd" stroke-width="1"/>
<line x1="60.5" y1="723.5" x2="1037.4" y2="723.5" stroke="#bdbdbd" stroke-width="1"/>
<line x1="60.5" y1="714.5" x2="1037.4" y2="714.5" stroke="#bdbdbd" stroke-width="1"/>
<line x1="60.5" y1="704.5" x2="1037.4" y2="704.5" stroke="#bdbdbd" stroke-width="1"/>
<line x1="60.5" y1="695.5" x2="1037.4" y2="695.5" stroke="#bdbdbd" stroke-width="1"/>
<line x1="60.5" y1="685.5" x2="1037.4" y2="685.5" stroke="#bdbdbd" stroke-width="1"/>
<line x1="60.5" y1="676.5" x2="1037.4" y2="676.5" stroke="#bdbdbd" stroke-width="1"/>
<line x1="105.25" y1="665.4" x2="105.25" y2="743.4" stroke="#151515" stroke-width="1.6"/>
<line x1="238.47" y1="665.4" x2="238.47" y2="743.4" stroke="#151515" stroke-width="1.6"/>
<line x1="371.68" y1="665.4" x2="371.68" y2="743.4" stroke="#151515" stroke-width="1.6"/>
<line x1="504.9" y1="665.4" x2="504.9" y2="743.4" stroke="#151515" stroke-width="1.6"/>
<line x1="638.11" y1="665.4" x2="638.11" y2="743.4" stroke="#151515" stroke-width="1.6"/>
<line x1="771.32" y1="665.4" x2="771.32" y2="743.4" stroke="#151515" stroke-width="1.6"/>
<line x1="904.54" y1="665.4" x2="904.54" y2="743.4" stroke="#151515" stroke-width="1.6"/>
<path d="M68.83 685.88 L102.13 685.88 L102.13 676.36 L163.19 676.36 L163.19 685.88 L218.69 685.88 L218.69 676.36 L240.89 676.36 L240.89 685.88 L246.44 685.88 L246.44 676.36 L257.55 676.36 L257.55 685.88 L263.1 685.88 L263.1 676.36 L329.7 676.36 L329.7 685.88 L407.41 685.88 L407.41 695.4 L457.37 695.4 L457.37 704.92 L551.73 704.92 L551.73 695.4 L607.23 695.4 L607.23 685.88 L651.64 685.88 L651.64 676.36 L773.75 676.36 L773.75 666.84 L812.6 666.84 L812.6 676.36 L951.37 676.36 L951.37 666.84 L962.47 666.84 L962.47 676.36 L1001.32 676.36 L1001.32 666.84 L1012.42 666.84 L1012.42 676.36 L1037.4 676.36" stroke="#0000ff" stroke-width="1.6" fill="none" stroke-linejoin="miter"/>
<text x="77" y="742" font-size="10.6" fill="#0000ff" textLength="106.69" lengthAdjust="spacingAndGlyphs">- effektive Bewölkung</text>
<line x1="60.5" y1="618.2" x2="60.5" y2="743.4" stroke="#000" stroke-width="1.1"/>
<line x1="1037.4" y1="618.2" x2="1037.4" y2="743.4" stroke="#000" stroke-width="1.1"/>
<line x1="60.5" y1="665.4" x2="1037.4" y2="665.4" stroke="#000" stroke-width="1.3"/>
<line x1="60.5" y1="743.4" x2="1037.4" y2="743.4" stroke="#000" stroke-width="1.1"/>
<text x="71.6" y="755" font-size="10.92" fill="#111" text-anchor="middle" textLength="12.09" lengthAdjust="spacingAndGlyphs">18</text>
<text x="104.9" y="755" font-size="10.92" fill="#111" text-anchor="middle">0</text>
<text x="138.21" y="755" font-size="10.92" fill="#111" text-anchor="middle">6</text>
<text x="171.51" y="755" font-size="10.92" fill="#111" text-anchor="middle" textLength="12.09" lengthAdjust="spacingAndGlyphs">12</text>
<text x="204.81" y="755" font-size="10.92" fill="#111" text-anchor="middle" textLength="12.09" lengthAdjust="spacingAndGlyphs">18</text>
<text x="238.12" y="755" font-size="10.92" fill="#111" text-anchor="middle">0</text>
<text x="271.42" y="755" font-size="10.92" fill="#111" text-anchor="middle">6</text>
<text x="304.73" y="755" font-size="10.92" fill="#111" text-anchor="middle" textLength="12.09" lengthAdjust="spacingAndGlyphs">12</text>
<text x="338.03" y="755" font-size="10.92" fill="#111" text-anchor="middle" textLength="12.09" lengthAdjust="spacingAndGlyphs">18</text>
<text x="371.33" y="755" font-size="10.92" fill="#111" text-anchor="middle">0</text>
<text x="404.64" y="755" font-size="10.92" fill="#111" text-anchor="middle">6</text>
<text x="437.94" y="755" font-size="10.92" fill="#111" text-anchor="middle" textLength="12.09" lengthAdjust="spacingAndGlyphs">12</text>
<text x="471.24" y="755" font-size="10.92" fill="#111" text-anchor="middle" textLength="12.09" lengthAdjust="spacingAndGlyphs">18</text>
<text x="504.55" y="755" font-size="10.92" fill="#111" text-anchor="middle">0</text>
<text x="537.85" y="755" font-size="10.92" fill="#111" text-anchor="middle">6</text>
<text x="571.15" y="755" font-size="10.92" fill="#111" text-anchor="middle" textLength="12.09" lengthAdjust="spacingAndGlyphs">12</text>
<text x="604.46" y="755" font-size="10.92" fill="#111" text-anchor="middle" textLength="12.09" lengthAdjust="spacingAndGlyphs">18</text>
<text x="637.76" y="755" font-size="10.92" fill="#111" text-anchor="middle">0</text>
<text x="671.06" y="755" font-size="10.92" fill="#111" text-anchor="middle">6</text>
<text x="704.37" y="755" font-size="10.92" fill="#111" text-anchor="middle" textLength="12.09" lengthAdjust="spacingAndGlyphs">12</text>
<text x="737.67" y="755" font-size="10.92" fill="#111" text-anchor="middle" textLength="12.09" lengthAdjust="spacingAndGlyphs">18</text>
<text x="770.97" y="755" font-size="10.92" fill="#111" text-anchor="middle">0</text>
<text x="804.28" y="755" font-size="10.92" fill="#111" text-anchor="middle">6</text>
<text x="837.58" y="755" font-size="10.92" fill="#111" text-anchor="middle" textLength="12.09" lengthAdjust="spacingAndGlyphs">12</text>
<text x="870.88" y="755" font-size="10.92" fill="#111" text-anchor="middle" textLength="12.09" lengthAdjust="spacingAndGlyphs">18</text>
<text x="904.19" y="755" font-size="10.92" fill="#111" text-anchor="middle">0</text>
<text x="937.49" y="755" font-size="10.92" fill="#111" text-anchor="middle">6</text>
<text x="970.79" y="755" font-size="10.92" fill="#111" text-anchor="middle" textLength="12.09" lengthAdjust="spacingAndGlyphs">12</text>
<text x="1004.1" y="755" font-size="10.92" fill="#111" text-anchor="middle" textLength="12.09" lengthAdjust="spacingAndGlyphs">18</text>
<text x="1037.4" y="755" font-size="10.92" fill="#111" text-anchor="middle">0</text>
<text x="57.5" y="747.6" font-size="10.92" fill="#111" text-anchor="end">0</text>
<text x="57.5" y="738.08" font-size="10.92" fill="#111" text-anchor="end">1</text>
<text x="57.5" y="728.56" font-size="10.92" fill="#111" text-anchor="end">2</text>
<text x="57.5" y="719.04" font-size="10.92" fill="#111" text-anchor="end">3</text>
<text x="57.5" y="709.52" font-size="10.92" fill="#111" text-anchor="end">4</text>
<text x="57.5" y="700" font-size="10.92" fill="#111" text-anchor="end">5</text>
<text x="57.5" y="690.48" font-size="10.92" fill="#111" text-anchor="end">6</text>
<text x="57.5" y="680.96" font-size="10.92" fill="#111" text-anchor="end">7</text>
<text x="57.5" y="671.44" font-size="10.92" fill="#111" text-anchor="end">8</text>
<text x="1043" y="628.7" font-size="9.96" fill="#111" textLength="21.86" lengthAdjust="spacingAndGlyphs">hoch</text>
<text x="1043" y="645" font-size="9.96" fill="#111" textLength="26.36" lengthAdjust="spacingAndGlyphs">mittel</text>
<text x="1043" y="660.8" font-size="9.96" fill="#111" textLength="14.73" lengthAdjust="spacingAndGlyphs">tief</text>
<text x="17.6" y="683.4" font-size="12.72" fill="#000" text-anchor="middle" textLength="99.56" lengthAdjust="spacingAndGlyphs" transform="rotate(-90 17.6 683.4)">Bedeckungsgrad</text>
<text x="32.3" y="680.8" font-size="12.72" fill="#000" text-anchor="middle" textLength="37.5" lengthAdjust="spacingAndGlyphs" transform="rotate(-90 32.3 680.8)">(Okta)</text>
</svg>
</body></html>
